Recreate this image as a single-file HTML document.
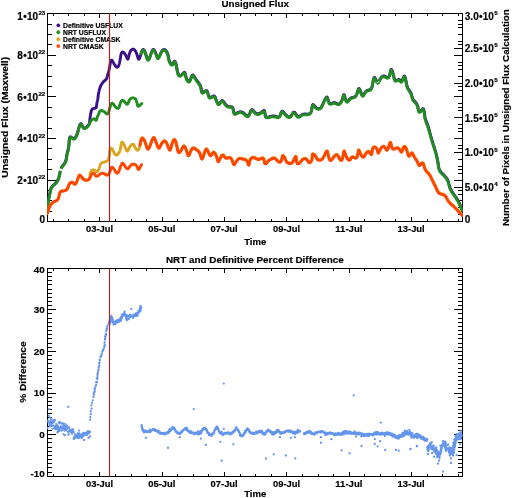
<!DOCTYPE html>
<html lang="en"><head><meta charset="utf-8"><title>Unsigned Flux</title>
<style>html,body{margin:0;padding:0;background:#fff}svg{display:block}text{font-family:"Liberation Sans",sans-serif;font-weight:bold;fill:#000;stroke:#000;stroke-width:0.18px}</style></head><body>
<svg width="512" height="498" viewBox="0 0 512 498">
<rect width="512" height="498" fill="#fff"/>
<path id="axes" d="M47.5,13.5 H462.5 V221.5 H47.5 Z M53.5,222 L53.5,219 M53.5,14 L53.5,16 M68.5,222 L68.5,219 M68.5,14 L68.5,16 M84.5,222 L84.5,219 M84.5,14 L84.5,16 M99.5,222 L99.5,217 M99.5,14 L99.5,18 M115.5,222 L115.5,219 M115.5,14 L115.5,16 M131.5,222 L131.5,219 M131.5,14 L131.5,16 M146.5,222 L146.5,219 M146.5,14 L146.5,16 M162.5,222 L162.5,217 M162.5,14 L162.5,18 M177.5,222 L177.5,219 M177.5,14 L177.5,16 M193.5,222 L193.5,219 M193.5,14 L193.5,16 M208.5,222 L208.5,219 M208.5,14 L208.5,16 M224.5,222 L224.5,217 M224.5,14 L224.5,18 M240.5,222 L240.5,219 M240.5,14 L240.5,16 M255.5,222 L255.5,219 M255.5,14 L255.5,16 M271.5,222 L271.5,219 M271.5,14 L271.5,16 M286.5,222 L286.5,217 M286.5,14 L286.5,18 M302.5,222 L302.5,219 M302.5,14 L302.5,16 M318.5,222 L318.5,219 M318.5,14 L318.5,16 M333.5,222 L333.5,219 M333.5,14 L333.5,16 M349.5,222 L349.5,217 M349.5,14 L349.5,18 M364.5,222 L364.5,219 M364.5,14 L364.5,16 M380.5,222 L380.5,219 M380.5,14 L380.5,16 M395.5,222 L395.5,219 M395.5,14 L395.5,16 M411.5,222 L411.5,217 M411.5,14 L411.5,18 M427.5,222 L427.5,219 M427.5,14 L427.5,16 M442.5,222 L442.5,219 M442.5,14 L442.5,16 M458.5,222 L458.5,219 M458.5,14 L458.5,16 M47.5,268.5 H462.5 V476.5 H47.5 Z M53.5,476 L53.5,474 M53.5,268 L53.5,271 M68.5,476 L68.5,474 M68.5,268 L68.5,271 M84.5,476 L84.5,474 M84.5,268 L84.5,271 M99.5,476 L99.5,472 M99.5,268 L99.5,273 M115.5,476 L115.5,474 M115.5,268 L115.5,271 M131.5,476 L131.5,474 M131.5,268 L131.5,271 M146.5,476 L146.5,474 M146.5,268 L146.5,271 M162.5,476 L162.5,472 M162.5,268 L162.5,273 M177.5,476 L177.5,474 M177.5,268 L177.5,271 M193.5,476 L193.5,474 M193.5,268 L193.5,271 M208.5,476 L208.5,474 M208.5,268 L208.5,271 M224.5,476 L224.5,472 M224.5,268 L224.5,273 M240.5,476 L240.5,474 M240.5,268 L240.5,271 M255.5,476 L255.5,474 M255.5,268 L255.5,271 M271.5,476 L271.5,474 M271.5,268 L271.5,271 M286.5,476 L286.5,472 M286.5,268 L286.5,273 M302.5,476 L302.5,474 M302.5,268 L302.5,271 M318.5,476 L318.5,474 M318.5,268 L318.5,271 M333.5,476 L333.5,474 M333.5,268 L333.5,271 M349.5,476 L349.5,472 M349.5,268 L349.5,273 M364.5,476 L364.5,474 M364.5,268 L364.5,271 M380.5,476 L380.5,474 M380.5,268 L380.5,271 M395.5,476 L395.5,474 M395.5,268 L395.5,271 M411.5,476 L411.5,472 M411.5,268 L411.5,273 M427.5,476 L427.5,474 M427.5,268 L427.5,271 M442.5,476 L442.5,474 M442.5,268 L442.5,271 M458.5,476 L458.5,474 M458.5,268 L458.5,271 M48,221.5 L56,221.5 M462,221.5 L454,221.5 M48,211.5 L52,211.5 M462,211.5 L458,211.5 M48,200.5 L52,200.5 M462,200.5 L458,200.5 M48,190.5 L52,190.5 M462,190.5 L458,190.5 M48,180.5 L56,180.5 M462,180.5 L454,180.5 M48,169.5 L52,169.5 M462,169.5 L458,169.5 M48,159.5 L52,159.5 M462,159.5 L458,159.5 M48,148.5 L52,148.5 M462,148.5 L458,148.5 M48,138.5 L56,138.5 M462,138.5 L454,138.5 M48,128.5 L52,128.5 M462,128.5 L458,128.5 M48,117.5 L52,117.5 M462,117.5 L458,117.5 M48,107.5 L52,107.5 M462,107.5 L458,107.5 M48,96.5 L56,96.5 M462,96.5 L454,96.5 M48,86.5 L52,86.5 M462,86.5 L458,86.5 M48,76.5 L52,76.5 M462,76.5 L458,76.5 M48,65.5 L52,65.5 M462,65.5 L458,65.5 M48,55.5 L56,55.5 M462,55.5 L454,55.5 M48,44.5 L52,44.5 M462,44.5 L458,44.5 M48,34.5 L52,34.5 M462,34.5 L458,34.5 M48,24.5 L52,24.5 M462,24.5 L458,24.5 M48,13.5 L56,13.5 M462,13.5 L454,13.5 M462,221.5 L454,221.5 M462,214.5 L458,214.5 M462,207.5 L458,207.5 M462,200.5 L458,200.5 M462,194.5 L458,194.5 M462,187.5 L454,187.5 M462,180.5 L458,180.5 M462,173.5 L458,173.5 M462,166.5 L458,166.5 M462,159.5 L458,159.5 M462,152.5 L454,152.5 M462,145.5 L458,145.5 M462,138.5 L458,138.5 M462,131.5 L458,131.5 M462,124.5 L458,124.5 M462,117.5 L454,117.5 M462,110.5 L458,110.5 M462,103.5 L458,103.5 M462,96.5 L458,96.5 M462,90.5 L458,90.5 M462,83.5 L454,83.5 M462,76.5 L458,76.5 M462,69.5 L458,69.5 M462,62.5 L458,62.5 M462,55.5 L458,55.5 M462,48.5 L454,48.5 M462,41.5 L458,41.5 M462,34.5 L458,34.5 M462,27.5 L458,27.5 M462,20.5 L458,20.5 M462,13.5 L454,13.5 M48,476.5 L56,476.5 M462,476.5 L454,476.5 M48,472.5 L52,472.5 M462,472.5 L458,472.5 M48,467.5 L52,467.5 M462,467.5 L458,467.5 M48,463.5 L52,463.5 M462,463.5 L458,463.5 M48,459.5 L52,459.5 M462,459.5 L458,459.5 M48,455.5 L52,455.5 M462,455.5 L458,455.5 M48,451.5 L52,451.5 M462,451.5 L458,451.5 M48,447.5 L52,447.5 M462,447.5 L458,447.5 M48,442.5 L52,442.5 M462,442.5 L458,442.5 M48,438.5 L52,438.5 M462,438.5 L458,438.5 M48,434.5 L56,434.5 M462,434.5 L454,434.5 M48,430.5 L52,430.5 M462,430.5 L458,430.5 M48,426.5 L52,426.5 M462,426.5 L458,426.5 M48,422.5 L52,422.5 M462,422.5 L458,422.5 M48,417.5 L52,417.5 M462,417.5 L458,417.5 M48,413.5 L52,413.5 M462,413.5 L458,413.5 M48,409.5 L52,409.5 M462,409.5 L458,409.5 M48,405.5 L52,405.5 M462,405.5 L458,405.5 M48,401.5 L52,401.5 M462,401.5 L458,401.5 M48,397.5 L52,397.5 M462,397.5 L458,397.5 M48,393.5 L56,393.5 M462,393.5 L454,393.5 M48,388.5 L52,388.5 M462,388.5 L458,388.5 M48,384.5 L52,384.5 M462,384.5 L458,384.5 M48,380.5 L52,380.5 M462,380.5 L458,380.5 M48,376.5 L52,376.5 M462,376.5 L458,376.5 M48,372.5 L52,372.5 M462,372.5 L458,372.5 M48,368.5 L52,368.5 M462,368.5 L458,368.5 M48,363.5 L52,363.5 M462,363.5 L458,363.5 M48,359.5 L52,359.5 M462,359.5 L458,359.5 M48,355.5 L52,355.5 M462,355.5 L458,355.5 M48,351.5 L56,351.5 M462,351.5 L454,351.5 M48,347.5 L52,347.5 M462,347.5 L458,347.5 M48,343.5 L52,343.5 M462,343.5 L458,343.5 M48,338.5 L52,338.5 M462,338.5 L458,338.5 M48,334.5 L52,334.5 M462,334.5 L458,334.5 M48,330.5 L52,330.5 M462,330.5 L458,330.5 M48,326.5 L52,326.5 M462,326.5 L458,326.5 M48,322.5 L52,322.5 M462,322.5 L458,322.5 M48,318.5 L52,318.5 M462,318.5 L458,318.5 M48,313.5 L52,313.5 M462,313.5 L458,313.5 M48,309.5 L56,309.5 M462,309.5 L454,309.5 M48,305.5 L52,305.5 M462,305.5 L458,305.5 M48,301.5 L52,301.5 M462,301.5 L458,301.5 M48,297.5 L52,297.5 M462,297.5 L458,297.5 M48,293.5 L52,293.5 M462,293.5 L458,293.5 M48,289.5 L52,289.5 M462,289.5 L458,289.5 M48,284.5 L52,284.5 M462,284.5 L458,284.5 M48,280.5 L52,280.5 M462,280.5 L458,280.5 M48,276.5 L52,276.5 M462,276.5 L458,276.5 M48,272.5 L52,272.5 M462,272.5 L458,272.5 M48,268.5 L56,268.5 M462,268.5 L454,268.5" fill="none" stroke="#000" stroke-width="1" shape-rendering="crispEdges"/>
<defs><clipPath id="c1"><rect x="47" y="13" width="416" height="209"/></clipPath><clipPath id="c2"><rect x="47" y="268" width="416" height="209"/></clipPath></defs>
<g id="curves" clip-path="url(#c1)">
<path d="M47.3,208.9 47.4,208.2 47.4,207.6 47.5,207 47.6,206.4 47.6,205.9 47.7,205.3 47.8,204.7 47.8,204.1 47.9,203.5 48,202.9 48.1,202.3 48.2,201.7 48.3,201.1 48.4,200.5 48.5,199.9 48.6,199.3 48.7,198.8 48.8,198.2 48.9,197.6 49,197 49.2,196.4 49.3,195.8 49.4,195.2 49.5,194.6 49.7,194.1 49.8,193.5 49.9,192.9 50,192.2 50.1,191.6 50.3,191 50.4,190.4 50.5,189.8 50.7,189.2 50.9,188.7 51.1,188.1 51.4,187.6 51.7,187.1 52,186.6 52.4,186.1 52.8,185.7 53.2,185.3 53.7,184.9 54.1,184.5 54.6,184.1 55,183.6 55.4,183.2 55.8,182.8 56.2,182.3 56.6,181.8 57,181.3 57.3,180.8 57.6,180.3 57.9,179.8 58.1,179.3 58.4,178.7 58.6,178.2 58.8,177.6 58.9,177 59.1,176.4 59.2,175.8 59.4,175.3 59.5,174.7 59.6,174.1 59.8,173.5 59.9,172.9 60,172.3 60.1,171.7 60.3,171.1 60.4,170.5 60.6,169.9 60.7,169.3 60.9,168.7 61.2,168.2 61.4,167.6 61.7,167.1 62,166.6 62.3,166.1 62.7,165.6 63.1,165.2 63.5,164.7 63.8,164.2 64.2,163.8 64.6,163.3 64.9,162.8 65.2,162.2 65.4,161.7 65.6,161.1 65.8,160.6 66,160 66.1,159.4 66.2,158.8 66.4,158.1 66.5,157.5 66.5,156.9 66.6,156.3 66.7,155.8 66.8,155.2 66.9,154.6 67,154.1 67.1,153.5 67.2,153 67.4,152.5 67.5,152 67.6,151.5 67.8,151 67.9,150.4 68,149.9 68.2,149.3 68.3,148.7 68.4,148.1 68.5,147.5 68.7,146.8 68.7,146.1 68.8,145.4 68.9,144.6 69,143.7 69,142.9 69.1,142 69.1,141.1 69.2,140.3 69.3,139.5 69.4,138.8 69.5,138.2 69.7,137.6 69.9,137.2 70.2,137 70.5,136.8 70.8,136.9 71.3,137.2 71.8,137.6 72.3,138 72.8,138.4 73.4,138.6 73.9,138.6 74.4,138.4 74.8,138 75.3,137.5 75.7,136.9 76,136.3 76.3,135.8 76.6,135.2 76.8,134.7 77.1,134.2 77.2,133.7 77.4,133.1 77.6,132.6 77.7,132.1 77.9,131.6 78,131 78.1,130.4 78.3,129.9 78.4,129.2 78.6,128.6 78.8,127.9 79,127.1 79.3,126.4 79.5,125.6 79.8,125 80.1,124.4 80.4,124 80.7,123.8 81,123.8 81.3,124 81.6,124.5 81.9,125.1 82.3,125.7 82.6,126.4 83,127 83.4,127.6 83.9,128 84.4,128.1 84.9,128.1 85.5,127.8 86,127.5 86.5,127 87,126.6 87.4,126.2 87.8,125.8 88.2,125.3 88.5,124.8 88.9,124.3 89.1,123.8 89.3,123.3 89.5,122.7 89.6,122.1 89.7,121.5 89.7,120.9 89.8,120.2 89.8,119.6 89.9,119 90,118.4 90.1,117.8 90.1,117.2 90.2,116.6 90.3,116.1 90.4,115.5 90.5,114.9 90.6,114.3 90.7,113.7 90.8,113.1 90.9,112.6 91.1,112 91.2,111.3 91.4,110.7 91.7,110.1 92,109.6 92.3,109.1 92.8,108.8 93.3,108.6 93.9,108.4 94.5,108.3 95.2,108.2 95.7,108 96.1,107.7 96.4,107.2 96.5,106.6 96.6,105.9 96.6,105.2 96.7,104.6 96.7,103.9 96.8,103.3 97,102.7 97.1,102.2 97.2,101.6 97.4,101 97.5,100.5 97.6,99.9 97.7,99.3 97.8,98.8 97.9,98.2 98,97.6 98.1,97 98.1,96.4 98.2,95.8 98.3,95.2 98.3,94.6 98.4,94 98.5,93.4 98.6,92.8 98.7,92.2 98.9,91.6 99,91 99.2,90.4 99.3,89.9 99.5,89.3 99.7,88.7 99.9,88.1 100.1,87.6 100.3,87 100.5,86.4 100.7,85.9 101,85.3 101.3,84.8 101.6,84.3 101.9,83.8 102.2,83.3 102.6,82.8 103,82.3 103.4,81.9 103.8,81.4 104.2,81 104.7,80.6 105.2,80.3 105.6,79.9 106,79.4 106.4,79 106.7,78.4 106.9,77.9 107.1,77.3 107.3,76.7 107.4,76.1 107.5,75.5 107.7,75 107.8,74.4 108,73.9 108.1,73.3 108.3,72.8 108.5,72.2 108.6,71.6 108.8,71 109,70.3 109.1,69.6 109.3,68.8 109.4,68 109.6,67.2 109.7,66.3 109.9,65.5 110,64.7 110.2,63.9 110.3,63.1 110.5,62.4 110.7,61.8 110.8,61.2 111,60.8 111.2,60.4 111.4,60.2 111.6,60.1 111.9,60.1 112.1,60.3 112.4,60.6 112.6,61.1 112.9,61.7 113.3,62.3 113.6,63 113.9,63.7 114.3,64.3 114.7,64.9 115.1,65.5 115.5,66 115.9,66.5 116.3,66.8 116.7,67.1 117,67.2 117.4,67.2 117.7,67 118,66.8 118.2,66.4 118.5,65.9 118.7,65.4 119,64.7 119.2,64 119.4,63.3 119.6,62.5 119.7,61.6 119.9,60.8 120.1,59.9 120.2,59 120.3,58.1 120.5,57.2 120.6,56.4 120.8,55.6 120.9,54.9 121.1,54.2 121.3,53.6 121.5,53.1 121.8,52.6 122,52.3 122.3,52.1 122.6,52 123,52.1 123.4,52.3 123.8,52.7 124.3,53.1 124.7,53.7 125.1,54.3 125.5,54.9 125.9,55.6 126.2,56.3 126.5,57 126.8,57.6 127,58.2 127.2,58.6 127.5,59 127.6,59.2 127.8,59.2 128,59.1 128.1,58.8 128.3,58.4 128.4,57.8 128.5,57.2 128.7,56.5 128.9,55.8 129,55 129.3,54.2 129.5,53.4 129.8,52.7 130.1,51.9 130.4,51.2 130.8,50.6 131.3,50.1 131.7,49.7 132.2,49.3 132.6,49.1 133.1,49.1 133.6,49.2 134,49.5 134.5,49.8 134.9,50.3 135.3,50.9 135.7,51.5 136,52.2 136.4,52.9 136.7,53.7 136.9,54.5 137.2,55.2 137.4,56 137.6,56.7 137.8,57.4 138,57.9 138.1,58.4 138.3,58.8 138.5,59.1 138.7,59.2 138.9,59.2 139.1,59 139.3,58.7 139.6,58.2 139.8,57.6 140,57 140.3,56.3 140.5,55.5 140.8,54.8 141,54 141.3,53.2 141.5,52.4 141.8,51.7 142,51 142.3,50.4 142.5,50 142.8,49.7 143.1,49.5 143.3,49.5 143.6,49.6 143.9,49.9 144.2,50.3 144.5,50.9 144.8,51.5 145.1,52.2 145.4,52.9 145.7,53.7 146,54.5 146.2,55.3 146.5,56.1 146.7,56.9 147,57.5 147.2,58.2 147.4,58.7 147.7,59.1 147.9,59.4 148.1,59.5 148.4,59.5 148.6,59.4 148.9,59.1 149.1,58.7 149.4,58.2 149.7,57.6 149.9,56.9 150.2,56.2 150.5,55.4 150.7,54.6 151,53.8 151.3,53 151.6,52.2 151.9,51.5 152.1,50.9 152.4,50.3 152.7,49.9 153,49.6 153.3,49.5 153.7,49.5 154,49.8 154.3,50.1 154.7,50.6 155,51.3 155.3,51.9 155.6,52.7 156,53.5 156.2,54.2 156.5,55 156.8,55.7 157.1,56.4 157.3,56.9 157.6,57.4 157.8,57.7 158.1,57.9 158.3,57.9 158.6,57.8 158.8,57.5 159.1,57.1 159.3,56.5 159.6,55.9 159.9,55.2 160.2,54.5 160.5,53.8 160.9,53 161.2,52.3 161.6,51.6 162,51 162.4,50.4 162.9,50 163.3,49.7 163.8,49.5 164.2,49.5 164.7,49.6 165.2,49.9 165.6,50.3 166.1,50.8 166.5,51.3 166.9,51.9 167.2,52.5 167.5,53.1 167.7,53.7 167.9,54.3 168,54.8 168.2,55.4 168.3,55.9 168.4,56.5 168.5,57 168.6,57.6 168.7,58.1 168.8,58.7 168.9,59.3 169,59.8 169.2,60.4 169.4,61 169.7,61.6 170,62.3 170.4,62.9 170.8,63.5 171.2,64.1 171.7,64.4 172.1,64.6 172.5,64.4 172.9,64 173.2,63.4 173.5,62.7 173.8,62.1 174.1,61.6 174.4,61.3 174.6,61.2 174.9,61.3 175.1,61.5 175.3,61.9 175.6,62.4 175.8,63 176,63.8 176.2,64.6 176.4,65.4 176.6,66.4 176.7,67.3 176.9,68.3 177.1,69.2 177.3,70.1 177.4,71 177.6,71.9 177.8,72.6 178,73.3 178.3,74 178.5,74.5 178.8,75 179.1,75.3 179.5,75.5 179.9,75.6 180.4,75.5 180.9,75.3 181.4,75 181.9,74.5 182.4,74 182.9,73.5 183.4,73 183.8,72.6 184.1,72.4 184.4,72.3 184.7,72.5 184.9,72.9 185.1,73.4 185.3,74.1 185.5,74.8 185.7,75.6 185.9,76.4 186.1,77.3 186.4,78.1 186.7,78.9 187.1,79.6 187.5,80.2 187.9,80.7 188.3,81.1 188.6,81.3 189,81.4 189.4,81.2 189.7,80.9 190,80.4 190.3,79.8 190.5,79.2 190.8,78.4 191.1,77.7 191.3,77 191.6,76.4 191.9,75.8 192.1,75.4 192.4,75.1 192.8,75 193.1,75.1 193.5,75.4 193.8,75.8 194.2,76.3 194.6,76.9 195,77.6 195.4,78.3 195.8,78.9 196.2,79.6 196.6,80.2 197,80.7 197.4,81.3 197.8,81.7 198.2,82.2 198.5,82.7 198.8,83.1 199.2,83.5 199.5,84 199.7,84.4 200,84.9 200.2,85.4 200.4,85.9 200.6,86.5 200.8,87 201,87.7 201.1,88.4 201.2,89.1 201.4,89.9 201.5,90.6 201.6,91.3 201.8,91.9 202.1,92.3 202.4,92.5 202.8,92.5 203.3,92.3 203.9,91.9 204.4,91.5 205,91.1 205.6,90.7 206.1,90.6 206.5,90.6 206.9,90.8 207.2,91.3 207.5,91.8 207.7,92.5 208,93.2 208.2,94 208.4,94.8 208.6,95.5 208.9,96.2 209.2,96.8 209.5,97.2 209.9,97.5 210.3,97.5 210.9,97.4 211.4,97.1 212,96.8 212.6,96.4 213.2,96.1 213.7,96 214.2,96 214.6,96.2 214.9,96.6 215.2,97.1 215.5,97.7 215.8,98.5 216,99.2 216.3,100 216.6,100.8 216.9,101.6 217.2,102.3 217.6,102.9 217.9,103.4 218.3,103.8 218.7,104 219,104 219.4,103.8 219.8,103.3 220.2,102.8 220.6,102.2 221,101.6 221.4,101.1 221.8,100.7 222.2,100.5 222.6,100.6 223,100.9 223.4,101.3 223.8,101.8 224.2,102.4 224.6,103.1 225,103.7 225.4,104.3 225.9,104.8 226.3,105.3 226.8,105.6 227.3,106 227.8,106.2 228.4,106.4 229,106.5 229.6,106.6 230.2,106.6 230.8,106.7 231.4,106.8 232,107 232.4,107.4 232.7,107.8 233,108.4 233.2,109.1 233.4,109.8 233.5,110.5 233.7,111.2 233.8,111.9 234,112.5 234.2,113 234.4,113.4 234.7,113.6 235.1,113.7 235.6,113.6 236.1,113.4 236.7,113.2 237.3,112.9 238,112.5 238.6,112.3 239.2,112 239.9,111.9 240.5,111.8 241.1,111.8 241.7,112 242.2,112.2 242.8,112.4 243.4,112.8 243.9,113.3 244.5,113.7 245,114.3 245.6,114.8 246.1,115.2 246.6,115.6 247,115.9 247.5,116.1 247.9,116.1 248.3,116 248.6,115.7 249,115.2 249.3,114.6 249.6,113.9 249.9,113.2 250.1,112.5 250.4,111.8 250.7,111.1 251,110.5 251.3,110 251.6,109.7 251.9,109.6 252.2,109.6 252.6,109.8 253,110.2 253.4,110.7 253.9,111.3 254.3,111.8 254.8,112.4 255.4,112.8 255.9,113.2 256.5,113.5 257.1,113.7 257.7,113.8 258.3,113.8 258.9,113.7 259.5,113.5 260.2,113.2 260.8,112.9 261.4,112.4 261.9,111.9 262.5,111.5 263,111 263.4,110.7 263.8,110.6 264.1,110.5 264.4,110.7 264.6,111.1 264.7,111.6 264.8,112.3 264.9,113 265,113.7 265.2,114.5 265.4,115.2 265.6,115.8 265.9,116.4 266.3,116.8 266.8,117 267.3,117.1 267.9,117.1 268.6,117 269.3,116.9 269.9,116.7 270.6,116.5 271.2,116.4 271.7,116.2 272.3,116.1 272.9,116 273.5,116 274.1,116 274.7,116.2 275.4,116.3 276,116.5 276.6,116.7 277.3,116.9 277.9,116.9 278.4,116.9 278.9,116.8 279.4,116.5 279.8,116 280.1,115.4 280.4,114.8 280.7,114.1 280.9,113.4 281.1,112.7 281.4,112.1 281.6,111.6 281.9,111.3 282.2,111.1 282.5,111.2 282.9,111.4 283.3,111.8 283.8,112.3 284.2,112.9 284.7,113.5 285.2,114.1 285.8,114.7 286.3,115.3 286.8,115.8 287.4,116.2 287.9,116.5 288.5,116.8 289,116.9 289.5,116.9 290,116.7 290.5,116.4 291,115.9 291.4,115.4 291.8,114.8 292.2,114.1 292.6,113.5 292.9,113 293.3,112.5 293.7,112.2 294,112.1 294.4,112.1 294.7,112.4 295.1,112.8 295.4,113.3 295.8,113.9 296.2,114.6 296.6,115.2 297,115.8 297.5,116.2 297.9,116.6 298.4,116.7 298.9,116.6 299.4,116.4 299.9,116.1 300.5,115.8 301,115.4 301.6,115 302.2,114.6 302.7,114.4 303.3,114.2 303.9,114.1 304.5,114 305.1,114 305.7,114 306.3,114.1 307,114.1 307.6,114.1 308.3,114 308.9,113.9 309.4,113.7 309.9,113.4 310.4,113 310.7,112.5 311,111.9 311.3,111.2 311.5,110.5 311.7,109.7 311.8,108.9 312,108.1 312.1,107.3 312.2,106.6 312.3,106 312.4,105.4 312.6,105 312.7,104.7 312.9,104.5 313.2,104.6 313.5,104.8 313.9,105.1 314.3,105.6 314.7,106.1 315.2,106.6 315.7,107.1 316.2,107.6 316.8,108 317.4,108.3 318,108.5 318.5,108.6 319.1,108.6 319.6,108.5 320,108.3 320.5,108 320.9,107.6 321.2,107.2 321.6,106.7 321.9,106.1 322.2,105.5 322.6,104.9 322.9,104.1 323.2,103.4 323.6,102.6 323.9,101.8 324.2,101 324.6,100.3 324.9,99.6 325.3,98.9 325.6,98.3 325.9,97.8 326.2,97.4 326.5,97.2 326.8,97 327.1,97.1 327.3,97.3 327.5,97.7 327.7,98.2 327.9,98.9 328.1,99.6 328.3,100.3 328.5,101 328.7,101.7 329,102.3 329.3,102.9 329.7,103.3 330.1,103.5 330.6,103.6 331.1,103.5 331.7,103.3 332.3,103.1 332.9,102.8 333.5,102.6 334.2,102.5 334.8,102.6 335.3,102.8 335.9,103.1 336.5,103.3 337,103.6 337.6,103.8 338.1,103.9 338.7,103.9 339.2,103.8 339.7,103.5 340.2,103.1 340.7,102.6 341.1,102 341.5,101.3 341.9,100.6 342.2,99.8 342.4,99 342.7,98.2 342.9,97.4 343.1,96.7 343.2,96 343.4,95.5 343.6,95 343.7,94.7 343.9,94.5 344,94.5 344.2,94.7 344.3,95.1 344.5,95.6 344.7,96.2 344.9,96.9 345.1,97.7 345.4,98.5 345.6,99.2 345.9,99.9 346.2,100.5 346.5,101 346.8,101.4 347.1,101.5 347.5,101.5 347.9,101.3 348.3,100.9 348.7,100.5 349.1,99.9 349.6,99.4 350.1,98.8 350.6,98.3 351.2,97.9 351.7,97.7 352.3,97.5 352.9,97.3 353.5,97.2 354.1,97.1 354.6,96.9 355.1,96.6 355.6,96.1 356,95.6 356.4,95 356.7,94.3 357,93.5 357.3,92.8 357.5,92 357.7,91.2 358,90.5 358.2,89.9 358.4,89.4 358.6,88.9 358.7,88.6 359,88.5 359.2,88.6 359.4,88.8 359.6,89.2 359.9,89.7 360.2,90.4 360.4,91.1 360.7,91.9 361,92.6 361.3,93.4 361.6,94 361.9,94.6 362.2,95.1 362.5,95.4 362.8,95.5 363.1,95.5 363.4,95.2 363.7,94.8 364,94.3 364.4,93.7 364.7,93 365.1,92.4 365.5,91.8 366,91.3 366.5,90.9 367.1,90.6 367.7,90.3 368.3,90.2 368.9,90 369.4,89.8 369.9,89.6 370.4,89.4 370.8,89.1 371.1,88.7 371.4,88.2 371.7,87.7 371.9,87.1 372.1,86.5 372.3,85.8 372.4,85.1 372.6,84.3 372.7,83.4 372.9,82.6 373,81.7 373.2,80.9 373.4,80.1 373.5,79.4 373.7,78.7 373.9,78.2 374.1,77.8 374.3,77.5 374.5,77.5 374.8,77.6 375.1,77.9 375.3,78.4 375.6,79 376,79.6 376.3,80.3 376.6,81 376.9,81.6 377.3,82.1 377.6,82.4 377.9,82.6 378.2,82.5 378.5,82.2 378.8,81.8 379.1,81.3 379.4,80.7 379.7,80 380.1,79.3 380.5,78.6 380.9,77.9 381.3,77.4 381.8,76.9 382.3,76.5 382.9,76.2 383.4,76 384,76 384.6,76.2 385.2,76.4 385.8,76.7 386.4,77.1 386.9,77.3 387.4,77.5 387.9,77.5 388.3,77.4 388.7,77.1 389,76.6 389.3,76 389.6,75.3 389.8,74.6 390,73.8 390.2,73.1 390.3,72.3 390.5,71.5 390.6,70.9 390.8,70.3 390.9,69.8 391.1,69.5 391.2,69.4 391.4,69.4 391.6,69.6 391.8,69.9 392.1,70.4 392.3,70.9 392.5,71.6 392.7,72.3 393,73.1 393.2,73.9 393.4,74.8 393.6,75.6 393.9,76.5 394.1,77.4 394.3,78.2 394.5,78.9 394.8,79.5 395.1,80 395.4,80.4 395.8,80.5 396.3,80.5 396.8,80.3 397.4,80 398,79.7 398.6,79.5 399.1,79.5 399.6,79.9 400.1,80.4 400.5,80.9 400.9,81.4 401.2,81.6 401.6,81.5 401.9,81.2 402.2,80.6 402.5,80 402.8,79.2 403.1,78.4 403.4,77.7 403.6,77 403.9,76.4 404.1,76.1 404.4,76 404.6,76.1 404.8,76.4 405,76.9 405.3,77.6 405.5,78.3 405.7,79.1 405.8,80 406,80.8 406.2,81.6 406.3,82.4 406.5,83.1 406.6,83.8 406.7,84.4 406.8,85 407,85.6 407.1,86.1 407.3,86.6 407.5,87.1 407.7,87.6 407.9,88.1 408.1,88.5 408.4,89 408.7,89.5 409.1,90 409.4,90.5 409.7,91 410.1,91.5 410.4,92 410.7,92.6 411,93.1 411.2,93.7 411.4,94.3 411.6,94.9 411.8,95.5 411.9,96.1 412.1,96.7 412.3,97.3 412.4,97.9 412.6,98.4 412.8,98.9 413.1,99.4 413.4,99.9 413.7,100.3 414.1,100.7 414.5,101.1 414.9,101.5 415.3,102 415.7,102.4 416.1,102.9 416.5,103.4 416.8,104 417.1,104.6 417.4,105.3 417.7,106.1 417.9,106.9 418.1,107.7 418.2,108.5 418.4,109.3 418.6,110 418.8,110.6 419,111.1 419.2,111.5 419.5,111.7 419.8,111.7 420.1,111.6 420.5,111.2 420.9,110.7 421.3,110.2 421.8,109.6 422.2,109.1 422.6,108.7 422.9,108.6 423.2,108.6 423.5,108.8 423.7,109.2 423.9,109.7 424,110.3 424.2,111 424.3,111.8 424.4,112.7 424.5,113.5 424.6,114.4 424.7,115.2 424.8,116 424.9,116.8 425.1,117.5 425.2,118.1 425.4,118.7 425.6,119.3 425.7,119.9 425.9,120.4 426.1,120.9 426.3,121.4 426.5,121.9 426.7,122.4 426.9,122.9 427.1,123.4 427.3,123.9 427.4,124.5 427.6,125 427.8,125.5 428,126.1 428.2,126.6 428.3,127.2 428.5,127.8 428.7,128.4 428.9,129 429,129.5 429.2,130.1 429.4,130.7 429.5,131.3 429.7,131.9 429.9,132.5 430,133.1 430.2,133.7 430.3,134.3 430.5,134.9 430.7,135.5 430.8,136.1 431,136.7 431.2,137.3 431.3,137.8 431.5,138.4 431.7,139 431.9,139.6 432,140.1 432.2,140.7 432.4,141.3 432.5,141.8 432.7,142.4 432.9,143 433.1,143.6 433.2,144.1 433.4,144.7 433.6,145.3 433.8,145.8 434,146.4 434.2,147 434.3,147.6 434.5,148.1 434.7,148.7 434.9,149.3 435,149.9 435.2,150.4 435.4,151 435.6,151.6 435.7,152.2 435.9,152.7 436.1,153.3 436.2,153.9 436.4,154.5 436.5,155.1 436.6,155.6 436.8,156.2 436.9,156.8 437,157.4 437.2,158 437.3,158.5 437.4,159.1 437.5,159.7 437.6,160.3 437.7,160.9 437.8,161.5 438,162.1 438.1,162.7 438.2,163.3 438.2,163.9 438.3,164.5 438.4,165.1 438.5,165.7 438.6,166.3 438.7,166.9 438.9,167.5 439,168.1 439.2,168.7 439.4,169.2 439.6,169.8 439.8,170.3 440.1,170.8 440.4,171.3 440.8,171.8 441.2,172.3 441.6,172.7 442,173.1 442.4,173.6 442.9,174 443.3,174.4 443.8,174.9 444.2,175.3 444.6,175.7 445,176.2 445.4,176.6 445.8,177.1 446.2,177.6 446.5,178.1 446.9,178.6 447.2,179.1 447.5,179.6 447.7,180.1 448,180.7 448.2,181.2 448.4,181.8 448.5,182.4 448.7,182.9 448.9,183.5 449,184.1 449.2,184.7 449.3,185.3 449.5,185.9 449.7,186.4 449.9,187 450,187.6 450.2,188.2 450.5,188.7 450.7,189.3 451,189.8 451.3,190.3 451.6,190.8 451.9,191.4 452.2,191.9 452.6,192.4 452.9,192.9 453.2,193.4 453.6,193.9 453.9,194.3 454.3,194.8 454.6,195.3 455,195.8 455.3,196.3 455.7,196.8 456,197.3 456.3,197.8 456.6,198.3 457,198.8 457.3,199.3 457.6,199.9 457.9,200.4 458.2,200.9 458.4,201.4 458.7,202 459,202.5 459.3,203 459.5,203.6 459.8,204.1 460,204.7 460.3,205.2 460.5,205.8 460.7,206.3 461,206.9 461.2,207.4 461.5,208 461.7,208.5 461.9,209.1 462.1,209.7" fill="none" stroke="#3a1088" stroke-width="2.9" stroke-linecap="round" stroke-linejoin="round"/>
<path d="M47.4,209.3 47.5,208.7 47.5,208.1 47.6,207.5 47.7,206.9 47.7,206.3 47.8,205.7 47.9,205.1 47.9,204.5 48,203.9 48.1,203.3 48.2,202.7 48.3,202.1 48.4,201.5 48.5,200.9 48.6,200.4 48.7,199.8 48.8,199.2 48.9,198.6 49,198 49.1,197.4 49.3,196.8 49.4,196.2 49.5,195.7 49.6,195.1 49.8,194.5 49.9,193.9 50,193.3 50.1,192.6 50.2,192 50.4,191.4 50.5,190.8 50.7,190.2 50.8,189.6 51,189.1 51.3,188.5 51.5,188 51.8,187.5 52.1,187 52.5,186.6 52.9,186.1 53.4,185.7 53.8,185.3 54.3,184.9 54.7,184.5 55.2,184 55.6,183.6 56,183.1 56.4,182.7 56.8,182.2 57.1,181.7 57.4,181.2 57.7,180.7 58,180.2 58.3,179.6 58.5,179.1 58.7,178.5 58.9,177.9 59.1,177.4 59.2,176.8 59.4,176.2 59.5,175.6 59.6,175 59.8,174.4 59.9,173.8 60,173.2 60.1,172.6 60.2,172 60.4,171.4 60.5,170.8 60.7,170.2 60.9,169.6 61.1,169.1 61.3,168.5 61.6,168 61.8,167.5 62.2,167 62.5,166.5 62.9,166 63.3,165.5 63.6,165.1 64,164.6 64.4,164.1 64.7,163.6 65.1,163.1 65.3,162.6 65.6,162 65.8,161.4 66,160.9 66.1,160.3 66.3,159.7 66.4,159.1 66.5,158.4 66.6,157.8 66.7,157.2 66.8,156.6 66.8,156 66.9,155.5 67,154.9 67.1,154.4 67.3,153.8 67.4,153.3 67.5,152.8 67.6,152.3 67.8,151.8 67.9,151.3 68.1,150.7 68.2,150.2 68.3,149.6 68.4,149 68.6,148.4 68.7,147.7 68.8,147.1 68.9,146.3 69,145.6 69,144.8 69.1,143.9 69.1,143 69.2,142.2 69.2,141.3 69.3,140.5 69.4,139.7 69.5,139 69.7,138.4 69.9,137.9 70.1,137.6 70.4,137.4 70.7,137.3 71.1,137.4 71.5,137.8 72,138.2 72.6,138.6 73.1,138.9 73.6,139.1 74.2,139 74.6,138.7 75.1,138.3 75.5,137.8 75.9,137.2 76.2,136.6 76.5,136 76.8,135.5 77,134.9 77.2,134.4 77.4,133.9 77.6,133.4 77.7,132.9 77.9,132.3 78,131.8 78.1,131.2 78.3,130.7 78.4,130.1 78.6,129.4 78.8,128.7 79,128 79.2,127.3 79.5,126.5 79.8,125.8 80,125.2 80.3,124.6 80.7,124.3 81,124.2 81.3,124.3 81.6,124.7 81.9,125.2 82.2,125.8 82.5,126.5 82.9,127.1 83.3,127.7 83.7,128.2 84.2,128.5 84.7,128.6 85.3,128.4 85.8,128.1 86.4,127.7 86.8,127.3 87.3,126.9 87.7,126.5 88.1,126 88.5,125.6 88.8,125.1 89.2,124.6 89.5,124 89.7,123.5 90,122.9 90.2,122.3 90.4,121.8 90.7,121.2 91,120.7 91.3,120.3 91.8,119.9 92.3,119.6 92.8,119.3 93.4,119 94.1,118.9 94.6,119 95.1,119.4 95.5,120 95.9,120.3 96.2,120.2 96.5,119.8 96.7,119.2 96.9,118.4 97.2,117.6 97.4,116.9 97.6,116.3 97.9,115.8 98.1,115.3 98.3,114.8 98.6,114.2 98.8,113.6 99.1,113 99.3,112.3 99.6,111.7 100,111.2 100.4,110.8 100.8,110.6 101.4,110.5 102,110.6 102.6,110.8 103.1,111.1 103.7,111.4 104.1,111.7 104.6,112.1 105.1,112.5 105.6,113 106.1,113.4 106.5,113.8 107,114 107.4,114 107.7,113.7 108.1,113.3 108.3,112.8 108.6,112.1 108.9,111.3 109.1,110.5 109.4,109.7 109.6,108.8 109.8,108 110,107.2 110.3,106.4 110.5,105.7 110.7,105 111,104.5 111.3,104 111.5,103.6 111.8,103.4 112.1,103.3 112.4,103.3 112.7,103.5 113.1,103.8 113.5,104.3 113.8,104.8 114.3,105.4 114.7,106 115.2,106.5 115.7,107.1 116.2,107.6 116.8,108 117.3,108.3 117.7,108.4 118.1,108.4 118.5,108.2 118.8,107.8 119.1,107.3 119.3,106.7 119.5,106 119.7,105.2 119.9,104.5 120.2,103.7 120.4,102.9 120.7,102.2 121,101.6 121.3,101.1 121.7,100.7 122.1,100.4 122.5,100.3 122.9,100.4 123.4,100.7 123.9,101 124.3,101.5 124.8,102.1 125.3,102.7 125.8,103.2 126.2,103.7 126.6,104.1 127,104.3 127.3,104.3 127.6,104 127.9,103.6 128.2,103.1 128.4,102.5 128.7,101.8 129,101.1 129.3,100.4 129.7,99.7 130.1,99.2 130.6,98.7 131.1,98.3 131.7,98.1 132.3,97.9 132.9,97.9 133.5,97.9 134,98.1 134.6,98.3 135.1,98.7 135.6,99.1 136,99.7 136.3,100.4 136.5,101.1 136.7,101.8 136.9,102.6 137.1,103.3 137.2,104.1 137.3,104.7 137.5,105.3 137.7,105.8 137.9,106.1 138.2,106.3 138.6,106.3 139,106.1 139.5,105.8 140,105.3 140.5,104.8 140.9,104.4 141.4,103.9 141.8,103.5" fill="none" stroke="#228b22" stroke-width="2.9" stroke-linecap="round" stroke-linejoin="round"/>
<path d="M141,54.1 141.3,53.3 141.5,52.6 141.8,51.9 142,51.3 142.3,50.8 142.6,50.4 142.9,50.1 143.2,50.1 143.5,50.2 143.8,50.5 144.1,50.9 144.4,51.4 144.7,52 145,52.8 145.3,53.5 145.5,54.3 145.8,55.1 146.1,55.9 146.3,56.7 146.6,57.5 146.8,58.1 147,58.8 147.2,59.3 147.5,59.7 147.7,60 147.9,60.2 148.2,60.2 148.4,60 148.7,59.8 148.9,59.4 149.2,58.9 149.5,58.3 149.7,57.6 150,56.9 150.3,56.1 150.6,55.3 150.8,54.5 151.1,53.7 151.4,53 151.7,52.2 152,51.6 152.3,51 152.5,50.5 152.8,50.2 153.2,50.1 153.5,50.2 153.8,50.4 154.1,50.7 154.5,51.2 154.8,51.9 155.1,52.5 155.5,53.3 155.8,54 156.1,54.8 156.4,55.6 156.6,56.3 156.9,57 157.2,57.5 157.4,58 157.7,58.4 157.9,58.6 158.1,58.6 158.4,58.5 158.6,58.2 158.9,57.7 159.2,57.2 159.4,56.6 159.7,55.9 160,55.2 160.4,54.5 160.7,53.7 161.1,53 161.4,52.3 161.8,51.7 162.2,51.1 162.7,50.7 163.1,50.3 163.6,50.1 164,50.1 164.5,50.2 165,50.5 165.4,50.9 165.9,51.4 166.3,51.9 166.7,52.5 167,53.1 167.3,53.7 167.5,54.3 167.7,54.9 167.9,55.4 168,56 168.1,56.5 168.2,57.1 168.3,57.6 168.4,58.2 168.5,58.7 168.6,59.3 168.7,59.9 168.9,60.4 169.1,61 169.3,61.6 169.5,62.2 169.8,62.9 170.2,63.5 170.6,64.1 171,64.7 171.5,65.1 171.9,65.2 172.3,65.1 172.7,64.6 173,64.1 173.4,63.4 173.7,62.8 173.9,62.3 174.2,62 174.5,61.8 174.7,61.9 175,62.1 175.2,62.5 175.4,63 175.6,63.6 175.8,64.4 176,65.2 176.2,66 176.4,66.9 176.6,67.9 176.7,68.8 176.9,69.8 177.1,70.7 177.3,71.6 177.5,72.4 177.6,73.2 177.9,73.9 178.1,74.6 178.3,75.1 178.6,75.6 179,75.9 179.3,76.1 179.7,76.2 180.2,76.2 180.7,76 181.2,75.6 181.7,75.2 182.3,74.7 182.7,74.2 183.2,73.7 183.6,73.3 183.9,73 184.2,73 184.5,73.2 184.7,73.5 184.9,74 185.1,74.7 185.3,75.4 185.5,76.2 185.7,77 186,77.9 186.2,78.7 186.6,79.5 186.9,80.2 187.3,80.8 187.7,81.3 188.1,81.7 188.5,82 188.8,82 189.2,81.9 189.5,81.6 189.8,81.1 190.1,80.5 190.4,79.9 190.6,79.2 190.9,78.4 191.2,77.7 191.4,77.1 191.7,76.5 192,76 192.3,75.8 192.6,75.7 192.9,75.8 193.3,76 193.7,76.4 194.1,76.9 194.4,77.5 194.8,78.2 195.2,78.9 195.7,79.5 196.1,80.2 196.5,80.8 196.8,81.3 197.2,81.9 197.6,82.4 198,82.8 198.3,83.3 198.7,83.7 199,84.2 199.3,84.6 199.6,85 199.8,85.5 200.1,86 200.3,86.5 200.5,87.1 200.7,87.6 200.8,88.3 201,89 201.1,89.7 201.2,90.5 201.3,91.2 201.5,91.9 201.7,92.5 201.9,92.9 202.3,93.2 202.7,93.2 203.1,93 203.7,92.6 204.3,92.2 204.8,91.8 205.4,91.4 205.9,91.2 206.3,91.2 206.7,91.5 207,91.9 207.3,92.4 207.6,93.1 207.8,93.8 208,94.6 208.2,95.4 208.5,96.1 208.7,96.8 209,97.4 209.3,97.9 209.7,98.1 210.2,98.2 210.7,98.1 211.2,97.8 211.8,97.4 212.4,97.1 213,96.8 213.5,96.6 214,96.6 214.4,96.8 214.7,97.2 215,97.7 215.3,98.3 215.6,99.1 215.9,99.8 216.1,100.6 216.4,101.4 216.8,102.2 217.1,102.9 217.4,103.5 217.8,104.1 218.1,104.4 218.5,104.6 218.9,104.6 219.3,104.4 219.6,104 220,103.5 220.4,102.9 220.8,102.3 221.2,101.8 221.6,101.4 222,101.2 222.4,101.2 222.8,101.5 223.2,101.9 223.6,102.4 224,103.1 224.4,103.7 224.8,104.3 225.2,104.9 225.7,105.4 226.1,105.9 226.6,106.3 227.1,106.6 227.6,106.8 228.2,107 228.8,107.2 229.4,107.2 230,107.3 230.7,107.4 231.2,107.5 231.8,107.7 232.2,108 232.6,108.5 232.9,109 233.1,109.7 233.2,110.4 233.4,111.1 233.5,111.8 233.7,112.5 233.8,113.1 234,113.6 234.2,114 234.6,114.3 235,114.4 235.4,114.3 235.9,114.1 236.5,113.8 237.1,113.5 237.8,113.2 238.4,112.9 239.1,112.7 239.7,112.5 240.3,112.5 240.9,112.5 241.5,112.6 242.1,112.8 242.6,113.1 243.2,113.4 243.8,113.9 244.3,114.4 244.9,114.9 245.4,115.4 245.9,115.8 246.4,116.2 246.9,116.5 247.3,116.7 247.7,116.8 248.1,116.6 248.5,116.3 248.8,115.9 249.1,115.3 249.4,114.6 249.7,113.9 250,113.2 250.3,112.5 250.5,111.8 250.8,111.2 251.1,110.7 251.4,110.4 251.7,110.2 252.1,110.3 252.4,110.5 252.8,110.9 253.2,111.3 253.7,111.9 254.2,112.4 254.7,113 255.2,113.5 255.7,113.8 256.3,114.1 256.9,114.4 257.5,114.5 258.1,114.5 258.7,114.4 259.4,114.2 260,113.9 260.6,113.5 261.2,113.1 261.8,112.6 262.3,112.1 262.8,111.7 263.3,111.4 263.7,111.2 264,111.2 264.2,111.4 264.4,111.7 264.6,112.3 264.7,112.9 264.8,113.6 264.9,114.3 265,115.1 265.2,115.8 265.4,116.4 265.7,117 266.1,117.4 266.6,117.6 267.1,117.8 267.8,117.8 268.4,117.7 269.1,117.5 269.7,117.4 270.4,117.2 271,117 271.6,116.9 272.1,116.7 272.7,116.7 273.3,116.6 273.9,116.7 274.5,116.8 275.2,117 275.8,117.2 276.5,117.4 277.1,117.5 277.7,117.6 278.2,117.6 278.8,117.4 279.2,117.1 279.6,116.7 279.9,116.1 280.2,115.5 280.5,114.8 280.7,114.1 281,113.4 281.2,112.8 281.4,112.3 281.7,112 282,111.8 282.4,111.8 282.7,112.1 283.1,112.5 283.6,113 284,113.5 284.5,114.1 285.1,114.8 285.6,115.4 286.1,115.9 286.7,116.4 287.2,116.8 287.8,117.2 288.3,117.4 288.8,117.5 289.4,117.5 289.9,117.4 290.3,117.1 290.8,116.6 291.2,116.1 291.6,115.5 292,114.8 292.4,114.2 292.8,113.7 293.1,113.2 293.5,112.9 293.8,112.7 294.2,112.8 294.6,113 294.9,113.4 295.3,114 295.7,114.6 296,115.2 296.4,115.8 296.8,116.4 297.3,116.9 297.7,117.2 298.2,117.3 298.7,117.3 299.2,117.1 299.7,116.8 300.3,116.4 300.9,116 301.4,115.6 302,115.3 302.6,115 303.1,114.9 303.7,114.8 304.3,114.7 304.9,114.7 305.5,114.7 306.2,114.7 306.8,114.7 307.4,114.7 308.1,114.7 308.7,114.6 309.2,114.4 309.7,114.1 310.2,113.7 310.6,113.2 310.9,112.6 311.1,111.9 311.4,111.1 311.5,110.4 311.7,109.6 311.8,108.8 311.9,108 312,107.3 312.1,106.7 312.3,106.1 312.4,105.7 312.6,105.4 312.8,105.2 313,105.2 313.3,105.4 313.7,105.7 314.1,106.2 314.5,106.7 315,107.2 315.5,107.8 316,108.2 316.6,108.6 317.2,108.9 317.8,109.1 318.4,109.2 318.9,109.2 319.4,109.1 319.9,108.9 320.3,108.7 320.7,108.3 321.1,107.9 321.4,107.4 321.8,106.8 322.1,106.2 322.4,105.5 322.7,104.8 323.1,104.1 323.4,103.3 323.7,102.5 324.1,101.7 324.4,101 324.8,100.2 325.1,99.6 325.4,99 325.8,98.5 326.1,98.1 326.4,97.8 326.7,97.7 326.9,97.7 327.1,98 327.3,98.3 327.5,98.9 327.7,99.5 327.9,100.2 328.1,100.9 328.3,101.6 328.6,102.3 328.8,103 329.1,103.5 329.5,103.9 329.9,104.2 330.4,104.2 330.9,104.2 331.5,104 332.1,103.7 332.7,103.5 333.4,103.3 334,103.2 334.6,103.3 335.2,103.4 335.7,103.7 336.3,104 336.9,104.3 337.4,104.5 338,104.6 338.5,104.6 339,104.4 339.6,104.1 340.1,103.8 340.5,103.3 341,102.7 341.4,102 341.7,101.2 342,100.5 342.3,99.7 342.5,98.9 342.7,98.1 342.9,97.4 343.1,96.7 343.2,96.1 343.4,95.7 343.5,95.3 343.7,95.2 343.8,95.2 344,95.3 344.2,95.7 344.4,96.2 344.6,96.9 344.8,97.6 345,98.3 345.2,99.1 345.5,99.8 345.7,100.5 346,101.2 346.3,101.7 346.6,102 347,102.2 347.3,102.2 347.7,101.9 348.1,101.6 348.5,101.1 349,100.6 349.4,100 349.9,99.5 350.4,99 351,98.6 351.6,98.3 352.2,98.1 352.7,98 353.3,97.9 353.9,97.7 354.5,97.5 355,97.2 355.4,96.8 355.8,96.3 356.2,95.6 356.5,94.9 356.8,94.2 357.1,93.4 357.4,92.7 357.6,91.9 357.8,91.2 358,90.6 358.2,90 358.4,89.6 358.6,89.3 358.8,89.2 359,89.2 359.2,89.4 359.5,89.8 359.7,90.4 360,91 360.3,91.7 360.6,92.5 360.9,93.2 361.2,94 361.5,94.7 361.8,95.3 362.1,95.7 362.4,96.1 362.7,96.2 363,96.1 363.2,95.9 363.6,95.5 363.9,94.9 364.2,94.3 364.6,93.7 364.9,93.1 365.4,92.5 365.9,91.9 366.4,91.5 366.9,91.2 367.5,91 368.1,90.8 368.7,90.7 369.3,90.5 369.8,90.3 370.2,90.1 370.6,89.7 371,89.4 371.3,88.9 371.5,88.4 371.8,87.8 372,87.2 372.1,86.5 372.3,85.7 372.4,85 372.6,84.1 372.7,83.3 372.9,82.4 373,81.6 373.2,80.8 373.4,80 373.5,79.4 373.7,78.9 373.9,78.4 374.1,78.2 374.4,78.1 374.6,78.2 374.9,78.5 375.2,79 375.5,79.6 375.8,80.3 376.1,81 376.4,81.6 376.8,82.2 377.1,82.7 377.4,83.1 377.7,83.2 378,83.2 378.3,82.9 378.6,82.5 378.9,82 379.2,81.4 379.6,80.7 379.9,80 380.3,79.3 380.7,78.6 381.1,78 381.6,77.5 382.1,77.1 382.7,76.8 383.3,76.7 383.8,76.7 384.4,76.8 385,77.1 385.6,77.4 386.2,77.7 386.8,78 387.3,78.2 387.7,78.2 388.2,78 388.5,77.7 388.9,77.3 389.1,76.7 389.4,76 389.6,75.3 389.8,74.5 390,73.7 390.2,72.9 390.3,72.2 390.5,71.5 390.6,71 390.8,70.5 390.9,70.2 391.1,70 391.3,70.1 391.5,70.2 391.7,70.6 391.9,71 392.1,71.6 392.3,72.2 392.6,72.9 392.8,73.7 393,74.5 393.3,75.4 393.5,76.3 393.7,77.1 393.9,78 394.1,78.8 394.4,79.5 394.6,80.1 394.9,80.7 395.2,81 395.6,81.2 396.1,81.2 396.6,81 397.2,80.7 397.8,80.4 398.4,80.2 399,80.2 399.5,80.5 399.9,81 400.3,81.5 400.7,82 401.1,82.2 401.4,82.2 401.8,81.8 402.1,81.3 402.4,80.6 402.7,79.9 402.9,79.1 403.2,78.3 403.5,77.6 403.7,77.1 404,76.7 404.2,76.6 404.4,76.8 404.7,77.1 404.9,77.6 405.1,78.2 405.3,78.9 405.5,79.7 405.7,80.6 405.9,81.4 406,82.3 406.2,83 406.3,83.8 406.4,84.4 406.6,85.1 406.7,85.6 406.8,86.2 407,86.7 407.1,87.3 407.3,87.7 407.5,88.2 407.7,88.7 408,89.2 408.3,89.7 408.6,90.1 408.9,90.6 409.2,91.1 409.6,91.6 409.9,92.2 410.2,92.7 410.5,93.2 410.8,93.8 411.1,94.3 411.3,94.9 411.5,95.5 411.6,96.1 411.8,96.7 411.9,97.3 412.1,97.9 412.3,98.5 412.5,99.1 412.7,99.6 412.9,100.1 413.2,100.5 413.6,101 413.9,101.4 414.3,101.8 414.7,102.2 415.1,102.6 415.5,103 415.9,103.5 416.3,104 416.7,104.6 417,105.3 417.3,106 417.5,106.8 417.7,107.6 417.9,108.4 418.1,109.2 418.3,109.9 418.4,110.6 418.6,111.2 418.8,111.8 419,112.1 419.3,112.3 419.6,112.4 419.9,112.2 420.3,111.9 420.8,111.4 421.2,110.8 421.6,110.3 422,109.8 422.4,109.4 422.8,109.2 423.1,109.3 423.3,109.5 423.6,109.8 423.7,110.3 423.9,111 424,111.7 424.1,112.5 424.2,113.3 424.3,114.1 424.4,115 424.5,115.8 424.7,116.6 424.8,117.4 424.9,118.1 425.1,118.8 425.2,119.4 425.4,120 425.6,120.5 425.8,121.1 425.9,121.6 426.1,122.1 426.3,122.6 426.5,123.1 426.7,123.6 426.9,124.1 427.1,124.6 427.3,125.1 427.5,125.6 427.7,126.2 427.8,126.7 428,127.3 428.2,127.9 428.4,128.4 428.5,129 428.7,129.6 428.9,130.2 429,130.8 429.2,131.4 429.4,132 429.5,132.6 429.7,133.2 429.9,133.8 430,134.4 430.2,135 430.4,135.6 430.5,136.2 430.7,136.7 430.9,137.3 431,137.9 431.2,138.5 431.4,139.1 431.5,139.6 431.7,140.2 431.9,140.8 432,141.3 432.2,141.9 432.4,142.5 432.6,143.1 432.7,143.6 432.9,144.2 433.1,144.8 433.3,145.3 433.5,145.9 433.6,146.5 433.8,147.1 434,147.6 434.2,148.2 434.4,148.8 434.5,149.3 434.7,149.9 434.9,150.5 435.1,151.1 435.2,151.7 435.4,152.2 435.6,152.8 435.7,153.4 435.9,154 436.1,154.5 436.2,155.1 436.4,155.7 436.5,156.3 436.6,156.9 436.8,157.4 436.9,158 437,158.6 437.1,159.2 437.3,159.8 437.4,160.4 437.5,161 437.6,161.5 437.7,162.1 437.8,162.7 437.9,163.3 438,163.9 438.1,164.5 438.2,165.1 438.3,165.7 438.4,166.4 438.5,167 438.6,167.6 438.7,168.2 438.9,168.8 439,169.3 439.2,169.9 439.4,170.4 439.7,171 440,171.5 440.3,172 440.6,172.4 441,172.9 441.4,173.3 441.9,173.8 442.3,174.2 442.7,174.6 443.2,175.1 443.6,175.5 444,175.9 444.5,176.4 444.9,176.8 445.3,177.3 445.7,177.8 446,178.2 446.4,178.7 446.7,179.2 447,179.7 447.3,180.2 447.6,180.8 447.8,181.3 448,181.9 448.2,182.4 448.4,183 448.6,183.6 448.7,184.2 448.9,184.7 449,185.3 449.2,185.9 449.4,186.5 449.5,187.1 449.7,187.7 449.9,188.2 450.1,188.8 450.3,189.4 450.6,189.9 450.8,190.4 451.1,191 451.4,191.5 451.7,192 452.1,192.5 452.4,193 452.7,193.5 453.1,194 453.4,194.5 453.8,195 454.1,195.5 454.5,196 454.8,196.5 455.2,197 455.5,197.5 455.8,198 456.2,198.5 456.5,199 456.8,199.5 457.1,200 457.4,200.5 457.7,201 458,201.6 458.3,202.1 458.6,202.6 458.8,203.2 459.1,203.7 459.4,204.2 459.6,204.8 459.9,205.3 460.1,205.9 460.4,206.4 460.6,207 460.8,207.5 461.1,208.1 461.3,208.6 461.5,209.2 461.8,209.7 462,210.3" fill="none" stroke="#228b22" stroke-width="2.9" stroke-linecap="round" stroke-linejoin="round"/>
<path d="M47.4,213.4 47.6,212.8 47.7,212.2 47.9,211.7 48.1,211.1 48.3,210.5 48.4,210 48.6,209.4 48.8,208.8 49,208.2 49.2,207.7 49.5,207.1 49.7,206.6 50,206 50.2,205.5 50.5,205 50.9,204.5 51.2,204 51.6,203.5 52.1,203.1 52.5,202.7 53,202.3 53.5,202 54,201.7 54.6,201.4 55.2,201.2 55.7,201 56.3,200.7 56.8,200.5 57.2,200.1 57.6,199.7 58,199.2 58.2,198.7 58.5,198.2 58.7,197.5 58.9,196.9 59,196.2 59.1,195.6 59.3,194.9 59.4,194.2 59.6,193.5 59.8,192.9 60,192.4 60.3,191.9 60.6,191.5 61.1,191.3 61.6,191.1 62.1,191 62.8,191 63.4,191 64.1,190.9 64.7,190.7 65.3,190.5 65.8,190.3 66.3,189.9 66.8,189.5 67.2,189.1 67.5,188.6 67.7,188.1 68,187.6 68.2,187 68.3,186.5 68.5,185.9 68.7,185.3 69,184.7 69.3,184.2 69.6,183.6 70.1,183.1 70.5,182.7 71.1,182.4 71.7,182.2 72.2,182.3 72.7,182.6 73.2,183 73.7,183.5 74.1,184 74.5,184.2 74.9,184.2 75.4,184 75.8,183.6 76.1,183 76.5,182.3 76.9,181.6 77.2,180.8 77.5,179.9 77.8,179.1 78,178.4 78.3,177.6 78.5,177 78.8,176.4 79,175.9 79.3,175.5 79.5,175.3 79.8,175.2 80.1,175.3 80.4,175.5 80.8,175.9 81.1,176.4 81.5,176.9 81.9,177.5 82.4,178 82.8,178.6 83.3,179.1 83.8,179.5 84.3,179.8 84.9,180 85.4,180.1 86,180.2 86.7,180.2 87.3,180.1 87.9,179.9 88.4,179.6 88.9,179.3 89.3,178.9 89.6,178.4 89.8,177.9 89.9,177.4 90,176.8 90.1,176.2 90.1,175.5 90.2,174.9 90.2,174.2 90.3,173.5 90.5,172.8 90.7,172.2 91,171.6 91.3,171 91.7,170.5 92.1,170.2 92.6,170 93.2,169.9 93.8,170 94.4,170.2 95,170.5 95.6,170.9 96.1,171.3 96.6,171.5 97,171.6 97.4,171.4 97.8,171.1 98.2,170.6 98.5,169.9 98.8,169.2 99.1,168.5 99.3,167.8 99.5,167.1 99.7,166.5 99.9,165.8 100,165.2 100.2,164.7 100.5,164.2 100.8,163.8 101.1,163.4 101.5,163 102,162.8 102.6,162.5 103.2,162.3 103.8,162.1 104.4,162 105,161.8 105.6,161.6 106.2,161.4 106.7,161.2 107.2,160.9 107.6,160.5 108,160.2 108.2,159.7 108.5,159.2 108.7,158.7 108.8,158.1 109,157.5 109.1,156.8 109.2,156.1 109.3,155.3 109.4,154.5 109.5,153.7 109.6,152.9 109.7,152 109.8,151.2 110,150.5 110.1,149.8 110.3,149.2 110.5,148.7 110.7,148.3 110.9,148.1 111.2,148.1 111.5,148.2 111.8,148.5 112.1,148.9 112.5,149.5 112.8,150.1 113.2,150.8 113.5,151.5 113.8,152.2 114.2,152.9 114.5,153.5 114.9,154 115.2,154.5 115.6,154.8 116,155 116.4,155.1 116.8,155 117.3,154.8 117.7,154.4 118.2,153.9 118.6,153.3 119,152.7 119.4,152 119.7,151.2 120,150.4 120.2,149.6 120.4,148.8 120.6,148 120.7,147.2 120.9,146.4 121,145.6 121.1,144.9 121.2,144.2 121.3,143.7 121.4,143.1 121.6,142.7 121.7,142.4 121.9,142.2 122,142.1 122.3,142.1 122.5,142.2 122.8,142.5 123.1,142.9 123.4,143.5 123.7,144 124.1,144.7 124.4,145.4 124.7,146.1 125,146.9 125.3,147.7 125.6,148.4 125.9,149.1 126.2,149.7 126.4,150.2 126.7,150.7 127,151 127.2,151.1 127.5,151.1 127.7,150.9 128,150.5 128.2,150.1 128.5,149.5 128.8,148.9 129.2,148.2 129.5,147.5 129.9,146.8 130.3,146.2 130.8,145.6 131.3,145 131.8,144.6 132.3,144.4 132.8,144.3 133.2,144.4 133.6,144.7 133.9,145.2 134.3,145.7 134.6,146.4 134.9,147.1 135.3,147.7 135.7,148.4 136.1,149 136.5,149.5 136.9,149.9 137.3,150.1 137.7,150.2 138,150.1 138.3,149.9 138.6,149.5 138.9,149 139.2,148.4 139.4,147.7 139.6,146.9 139.8,146.1 140,145.2 140.2,144.4 140.3,143.5 140.5,142.7 140.7,141.9 140.8,141.1 141,140.4 141.1,139.7 141.3,139.1 141.5,138.6 141.7,138.2 141.9,137.9 142.2,137.7 142.4,137.7 142.7,137.8 143,138.1 143.4,138.4 143.7,138.9 144.1,139.5 144.4,140.1 144.7,140.8 145.1,141.6 145.4,142.3 145.6,143.1 145.9,143.9 146.1,144.7 146.4,145.4 146.6,146.1 146.8,146.7 147,147.3 147.3,147.8 147.5,148.2 147.7,148.5 147.9,148.7 148.1,148.7 148.4,148.6 148.6,148.4 148.9,148 149.2,147.6 149.4,147.1 149.7,146.5 150,145.8 150.3,145.1 150.5,144.3 150.8,143.5 151.1,142.7 151.4,141.9 151.6,141.1 151.9,140.3 152.2,139.6 152.4,138.9 152.7,138.4 153,137.9 153.2,137.6 153.5,137.4 153.8,137.3 154.1,137.4 154.3,137.7 154.6,138.1 154.9,138.6 155.2,139.2 155.5,139.9 155.7,140.7 156,141.4 156.3,142.2 156.6,143.1 156.8,143.8 157.1,144.6 157.4,145.3 157.7,146 157.9,146.5 158.2,147 158.5,147.4 158.7,147.6 159,147.7 159.2,147.6 159.5,147.4 159.7,147.1 160,146.6 160.3,146.1 160.6,145.5 160.9,144.8 161.2,144.2 161.6,143.5 162,142.8 162.5,142.2 162.9,141.7 163.4,141.2 163.9,140.9 164.4,140.7 164.8,140.7 165.2,140.9 165.7,141.3 166,141.7 166.4,142.3 166.8,143 167.1,143.7 167.4,144.4 167.7,145.2 168,145.9 168.3,146.7 168.5,147.4 168.8,148 169,148.6 169.2,149 169.5,149.4 169.7,149.6 169.9,149.7 170.1,149.6 170.3,149.4 170.5,149 170.7,148.6 170.9,148 171.1,147.4 171.3,146.6 171.5,145.9 171.7,145.1 171.9,144.3 172.2,143.4 172.4,142.7 172.7,141.9 172.9,141.2 173.2,140.6 173.5,140.1 173.8,139.7 174.1,139.4 174.3,139.3 174.6,139.4 174.9,139.6 175.1,139.9 175.4,140.4 175.7,141 175.9,141.7 176.1,142.4 176.4,143.2 176.6,144.1 176.8,144.9 176.9,145.8 177.1,146.7 177.3,147.5 177.4,148.3 177.6,149.1 177.8,149.8 177.9,150.4 178.1,151 178.3,151.4 178.6,151.8 178.8,152 179.1,152.1 179.4,152.1 179.7,151.9 180.1,151.5 180.4,151.1 180.8,150.6 181.2,150 181.6,149.3 181.9,148.6 182.3,147.9 182.6,147.3 183,146.7 183.3,146.2 183.6,145.8 183.9,145.7 184.3,145.8 184.6,146 184.9,146.4 185.2,147 185.5,147.6 185.8,148.4 186.1,149.2 186.4,150 186.7,150.8 186.9,151.6 187.2,152.4 187.4,153.1 187.7,153.7 187.9,154.3 188.1,154.8 188.3,155.1 188.5,155.3 188.7,155.3 188.9,155.1 189.2,154.8 189.4,154.4 189.6,153.9 189.8,153.3 190.1,152.6 190.3,151.9 190.6,151.2 190.9,150.4 191.3,149.8 191.6,149.1 192,148.6 192.5,148.1 193,147.8 193.4,147.7 194,147.7 194.5,148 195,148.3 195.6,148.7 196.1,149.1 196.6,149.5 197.1,149.8 197.6,150.2 198.1,150.6 198.5,151 198.9,151.4 199.3,151.9 199.6,152.4 199.9,153.1 200.2,153.8 200.4,154.5 200.7,155.2 200.9,155.9 201.1,156.6 201.2,157.2 201.4,157.8 201.6,158.2 201.8,158.5 202,158.7 202.1,158.7 202.3,158.5 202.5,158.2 202.8,157.8 203,157.2 203.2,156.6 203.4,155.9 203.7,155.1 203.9,154.3 204.2,153.5 204.4,152.7 204.7,151.9 204.9,151.1 205.2,150.4 205.5,149.8 205.7,149.3 206,148.9 206.3,148.7 206.6,148.7 206.9,148.9 207.1,149.3 207.4,149.8 207.8,150.4 208.1,151.1 208.4,151.8 208.7,152.6 209.1,153.3 209.4,154 209.8,154.6 210.2,155.1 210.6,155.3 210.9,155.3 211.3,154.9 211.7,154.4 212,153.8 212.4,153.2 212.8,152.6 213.2,152.2 213.6,152 214,152.1 214.5,152.4 214.9,152.9 215.4,153.5 215.8,154.2 216.1,155 216.4,155.8 216.7,156.6 217,157.4 217.2,158.2 217.4,158.9 217.6,159.6 217.8,160.1 217.9,160.6 218.1,161 218.3,161.2 218.4,161.3 218.6,161.2 218.8,161 219,160.6 219.3,160.1 219.6,159.5 219.9,158.8 220.2,158.1 220.5,157.4 220.9,156.7 221.3,156 221.7,155.5 222.2,155 222.6,154.7 223,154.7 223.4,154.9 223.8,155.3 224.2,155.8 224.7,156.4 225.1,157 225.6,157.4 226.1,157.7 226.6,157.8 227.2,157.7 227.8,157.5 228.4,157.4 229.1,157.3 229.6,157.4 230.2,157.5 230.7,157.9 231.2,158.3 231.6,158.9 232,159.5 232.3,160.2 232.6,160.9 232.8,161.7 233,162.4 233.2,163 233.4,163.5 233.7,163.9 233.9,164.1 234.1,164.2 234.4,164 234.8,163.7 235.1,163.3 235.5,162.7 235.9,162.1 236.3,161.4 236.7,160.8 237.1,160.1 237.5,159.6 237.9,159.1 238.4,158.7 238.8,158.4 239.3,158.2 239.8,158.1 240.4,158.1 241,158.2 241.6,158.4 242.2,158.5 242.8,158.7 243.4,158.8 244,158.9 244.6,159 245.2,159.2 245.7,159.4 246.2,159.8 246.7,160.3 247.1,160.9 247.4,161.6 247.7,162.3 248,163 248.2,163.6 248.4,164.2 248.6,164.5 248.8,164.8 248.9,164.8 249,164.6 249.1,164.2 249.2,163.7 249.3,163.1 249.4,162.4 249.6,161.6 249.7,160.9 250,160.1 250.3,159.4 250.6,158.7 251,158.2 251.5,157.7 252.1,157.4 252.7,157.3 253.3,157.2 253.9,157.3 254.5,157.4 255.1,157.7 255.6,157.9 256.1,158.2 256.7,158.5 257.2,158.7 257.8,158.9 258.4,159 259,159 259.6,158.9 260.2,158.7 260.9,158.4 261.5,158.1 262,157.8 262.6,157.7 263,157.7 263.4,158 263.7,158.5 263.9,159.2 264.1,159.9 264.3,160.7 264.4,161.4 264.6,162.1 264.8,162.7 265,163.2 265.3,163.4 265.6,163.4 266,163.1 266.5,162.7 266.9,162.2 267.4,161.7 267.9,161.1 268.4,160.6 268.9,160.2 269.4,159.8 269.9,159.5 270.4,159.2 270.9,158.9 271.4,158.6 272,158.3 272.6,158.1 273.2,157.8 273.7,157.7 274.3,157.7 274.8,157.8 275.2,158.1 275.6,158.5 276.1,158.9 276.5,159.4 276.9,159.9 277.4,160.4 277.9,160.9 278.5,161.3 279.1,161.6 279.7,161.8 280.2,161.7 280.6,161.5 281,161.1 281.3,160.5 281.5,159.8 281.7,159.1 281.9,158.3 282.1,157.5 282.2,156.8 282.4,156.2 282.5,155.7 282.7,155.4 283,155.3 283.3,155.4 283.6,155.8 284,156.3 284.3,156.9 284.7,157.5 285.1,158.2 285.4,158.9 285.7,159.6 286,160.2 286.3,160.8 286.7,161.3 287,161.8 287.4,162.2 287.8,162.5 288.3,162.8 288.8,162.9 289.5,163 290.1,163.1 290.7,163 291.3,162.8 291.8,162.6 292.2,162.3 292.6,161.9 293,161.4 293.3,160.8 293.6,160.2 293.9,159.5 294.2,158.8 294.5,158.1 294.9,157.4 295.2,156.8 295.4,156.4 295.7,156.1 295.9,156.1 296,156.3 296.1,156.8 296.2,157.4 296.3,158.1 296.4,158.9 296.5,159.7 296.6,160.6 296.7,161.4 296.9,162.1 297.1,162.7 297.4,163.1 297.7,163.4 298.2,163.4 298.7,163.2 299.2,162.9 299.7,162.4 300.2,161.9 300.7,161.4 301.1,160.9 301.5,160.4 301.9,159.9 302.3,159.5 302.7,159.1 303.2,158.8 303.7,158.6 304.3,158.4 305,158.3 305.6,158.4 306.2,158.6 306.7,158.9 307.1,159.4 307.5,160 307.9,160.6 308.2,161.2 308.6,161.7 308.9,162 309.4,162.2 309.8,162.1 310.4,161.9 310.9,161.4 311.3,160.9 311.6,160.2 311.9,159.5 312.1,158.7 312.2,157.9 312.2,157.1 312.3,156.4 312.3,155.7 312.4,155 312.4,154.5 312.6,154.1 312.7,153.8 313,153.7 313.4,153.8 313.8,154 314.3,154.4 314.8,154.9 315.3,155.4 315.7,156 316.1,156.6 316.3,157.2 316.6,157.7 316.9,158.2 317.2,158.7 317.6,159.1 318.1,159.4 318.6,159.6 319.2,159.8 319.9,159.8 320.5,159.7 321.1,159.6 321.6,159.3 322,159 322.5,158.5 322.9,158 323.3,157.4 323.7,156.8 324,156.1 324.4,155.3 324.7,154.6 325,153.9 325.3,153.2 325.6,152.5 325.9,152 326.2,151.5 326.4,151.1 326.7,150.8 326.9,150.7 327.1,150.7 327.3,150.9 327.5,151.3 327.7,151.7 327.8,152.3 328,153 328.2,153.8 328.3,154.6 328.5,155.4 328.7,156.2 328.9,157 329.1,157.7 329.3,158.4 329.6,159 329.8,159.4 330.1,159.8 330.4,160 330.8,160 331.2,159.8 331.6,159.5 332,159.1 332.4,158.6 332.9,158 333.3,157.3 333.8,156.7 334.3,156.1 334.8,155.5 335.3,155.1 335.7,154.7 336.2,154.4 336.6,154.3 337,154.4 337.4,154.6 337.7,155 338,155.5 338.4,156.1 338.7,156.8 339.1,157.4 339.4,158.1 339.8,158.7 340.2,159.3 340.6,159.7 341,159.9 341.3,160 341.6,159.9 341.9,159.6 342.1,159.1 342.4,158.5 342.6,157.8 342.8,157 343,156.2 343.1,155.4 343.3,154.5 343.4,153.7 343.5,152.9 343.7,152.2 343.8,151.6 343.9,151.2 344,150.8 344.1,150.7 344.3,150.7 344.4,150.9 344.5,151.2 344.7,151.7 344.9,152.2 345.1,152.9 345.3,153.6 345.6,154.3 345.8,155.1 346.2,155.9 346.5,156.7 346.9,157.4 347.4,158.1 347.9,158.8 348.4,159.3 348.9,159.6 349.4,159.8 349.8,159.7 350.2,159.4 350.5,158.9 350.9,158.3 351.2,157.6 351.6,157.1 352,156.8 352.5,156.6 353,156.7 353.7,157 354.3,157.2 354.9,157.5 355.5,157.7 356,157.7 356.4,157.5 356.8,157.1 357.1,156.5 357.4,155.9 357.6,155.1 357.8,154.3 357.9,153.5 358.1,152.7 358.2,151.9 358.3,151.2 358.4,150.6 358.5,150.1 358.6,149.8 358.7,149.7 358.9,149.8 359.1,150.1 359.3,150.5 359.6,151 359.8,151.7 360.1,152.4 360.5,153.1 360.8,153.9 361.2,154.6 361.6,155.2 362.1,155.8 362.5,156.3 362.9,156.6 363.3,156.7 363.7,156.6 364.1,156.3 364.4,155.9 364.7,155.4 365,154.8 365.4,154.1 365.8,153.5 366.2,152.8 366.7,152.2 367.2,151.8 367.7,151.4 368.3,151.3 368.8,151.3 369.3,151.6 369.8,152.1 370.2,152.7 370.6,153.3 371,153.8 371.2,154.1 371.5,154.1 371.7,153.9 371.8,153.5 371.9,153 372,152.3 372.1,151.5 372.3,150.7 372.4,149.8 372.5,149 372.8,148.3 373,147.6 373.4,147.1 373.8,146.8 374.3,146.6 374.9,146.7 375.4,147 376,147.4 376.5,147.9 376.9,148.6 377.2,149.3 377.5,150 377.7,150.7 377.8,151.3 378,151.9 378.1,152.3 378.2,152.6 378.4,152.7 378.6,152.6 378.8,152.3 379,151.9 379.3,151.3 379.6,150.7 379.9,150 380.3,149.3 380.7,148.6 381.2,147.9 381.7,147.2 382.2,146.7 382.7,146.3 383.3,146.1 383.8,146 384.2,146.2 384.7,146.6 385.1,147.2 385.5,147.8 385.8,148.4 386.1,149 386.5,149.4 386.8,149.7 387.1,149.7 387.4,149.5 387.7,149 388,148.5 388.3,147.8 388.5,147 388.8,146.1 389.1,145.3 389.3,144.5 389.5,143.7 389.8,143.1 390,142.6 390.2,142.2 390.4,142.1 390.6,142.2 390.7,142.5 390.9,143 391.1,143.7 391.3,144.4 391.5,145.2 391.7,146 391.9,146.7 392.2,147.4 392.5,148 392.9,148.4 393.3,148.7 393.8,148.7 394.4,148.6 394.9,148.3 395.5,148 396.1,147.8 396.8,147.6 397.4,147.6 398,147.7 398.6,148 399.1,148.4 399.5,148.9 400,149.5 400.3,150.1 400.6,150.8 400.9,151.3 401.2,151.6 401.5,151.7 401.8,151.5 402,151.1 402.3,150.6 402.6,149.9 402.8,149.1 403.1,148.4 403.4,147.6 403.7,147 404,146.5 404.3,146.1 404.6,146.1 405,146.2 405.3,146.5 405.7,147.1 406,147.7 406.4,148.5 406.7,149.3 407,150.2 407.2,151.1 407.5,152 407.7,152.8 407.9,153.6 408.2,154.3 408.4,155 408.6,155.4 408.9,155.7 409.1,155.9 409.4,155.8 409.7,155.5 410,155 410.3,154.4 410.6,153.8 411,153.2 411.4,152.8 411.7,152.6 412.1,152.7 412.4,153 412.8,153.5 413.2,154.1 413.5,154.8 413.9,155.5 414.2,156.2 414.6,156.9 414.9,157.5 415.3,158 415.6,158.5 415.9,158.9 416.2,159.4 416.5,159.8 416.8,160.3 417.1,160.8 417.4,161.4 417.7,162.1 417.9,162.8 418.2,163.5 418.5,164.2 418.8,164.7 419.1,165 419.5,165.1 419.9,164.9 420.4,164.5 420.8,164 421.3,163.5 421.7,163 422.1,162.7 422.5,162.6 422.8,162.7 423.1,163 423.4,163.5 423.6,164.1 423.8,164.8 424.1,165.5 424.3,166.3 424.5,167.1 424.8,167.9 425.1,168.7 425.4,169.3 425.7,169.9 426.1,170.4 426.5,170.9 426.9,171.4 427.3,171.8 427.7,172.2 428.1,172.6 428.5,173 428.8,173.4 429.2,173.8 429.5,174.3 429.9,174.8 430.2,175.3 430.5,175.8 430.7,176.3 431,176.9 431.3,177.4 431.5,178 431.8,178.6 432,179.1 432.3,179.7 432.5,180.2 432.8,180.8 433.1,181.3 433.4,181.8 433.6,182.4 433.9,182.9 434.2,183.4 434.4,183.9 434.7,184.5 435,185 435.3,185.5 435.5,186.1 435.8,186.6 436,187.2 436.3,187.7 436.5,188.3 436.8,188.9 437,189.5 437.3,190.1 437.5,190.6 437.8,191.2 438.2,191.7 438.5,192.1 438.9,192.5 439.4,192.9 439.9,193.1 440.5,193.4 441,193.6 441.6,193.8 442.2,193.9 442.8,194.1 443.4,194.3 443.9,194.5 444.4,194.8 444.9,195.2 445.3,195.6 445.7,196 446,196.5 446.3,197 446.6,197.5 446.9,198.1 447.2,198.7 447.5,199.2 447.8,199.8 448.1,200.3 448.4,200.8 448.8,201.3 449.2,201.8 449.6,202.2 450,202.7 450.4,203.1 450.9,203.5 451.3,203.9 451.8,204.3 452.2,204.7 452.7,205.1 453.1,205.5 453.6,205.9 454,206.3 454.4,206.7 454.9,207.2 455.3,207.6 455.7,208 456.1,208.4 456.5,208.9 456.9,209.3 457.4,209.8 457.8,210.2 458.2,210.6 458.6,211.1 459,211.5 459.4,211.9 459.9,212.3 460.3,212.8 460.7,213.2 461.1,213.6 461.5,214.1 462,214.5 462.4,214.9" fill="none" stroke="#daa520" stroke-width="2.9" stroke-linecap="round" stroke-linejoin="round"/>
<path d="M47.4,213.4 47.6,212.8 47.7,212.2 47.9,211.7 48.1,211.1 48.3,210.5 48.4,209.9 48.6,209.4 48.8,208.8 49,208.2 49.2,207.6 49.5,207.1 49.7,206.5 50,206 50.3,205.4 50.6,204.9 50.9,204.4 51.3,203.9 51.7,203.5 52.1,203 52.6,202.6 53,202.3 53.6,201.9 54.1,201.6 54.7,201.4 55.3,201.2 55.8,200.9 56.4,200.7 56.9,200.4 57.3,200 57.7,199.6 58,199.1 58.3,198.6 58.5,198 58.7,197.4 58.9,196.8 59,196.1 59.2,195.4 59.3,194.7 59.5,194 59.6,193.4 59.8,192.8 60.1,192.2 60.4,191.8 60.7,191.5 61.2,191.2 61.7,191.1 62.3,191 63,191 63.6,190.9 64.3,190.9 64.9,190.7 65.5,190.4 66,190.2 66.5,189.8 66.9,189.4 67.3,188.9 67.6,188.4 67.8,187.9 68,187.4 68.2,186.8 68.4,186.2 68.6,185.6 68.8,185.1 69.1,184.5 69.4,183.9 69.8,183.4 70.3,182.9 70.8,182.5 71.4,182.2 71.9,182.2 72.5,182.4 73,182.8 73.4,183.3 73.9,183.8 74.3,184.1 74.7,184.2 75.2,184.1 75.6,183.8 76,183.3 76.3,182.6 76.7,181.9 77,181.1 77.3,180.3 77.6,179.5 77.9,178.7 78.2,177.9 78.4,177.2 78.7,176.6 78.9,176.1 79.2,175.6 79.4,175.3 79.7,175.2 80,175.2 80.3,175.4 80.6,175.7 81,176.2 81.4,176.7 81.8,177.3 82.2,177.9 82.7,178.4 83.1,178.9 83.6,179.3 84.1,179.7 84.7,179.9 85.3,180.1 85.9,180.2 86.5,180.2 87.1,180.1 87.7,179.9 88.3,179.7 88.8,179.4 89.2,179 89.6,178.5 89.8,178 90.1,177.5 90.3,177 90.5,176.4 90.8,175.8 91.1,175.2 91.4,174.7 91.8,174.2 92.4,173.7 92.9,173.3 93.5,173.2 94,173.3 94.4,173.6 94.7,174.2 95.1,174.8 95.4,175.4 95.7,175.9 96.1,176.3 96.5,176.4 97,176.3 97.6,176 98.1,175.6 98.7,175.2 99.3,174.7 99.9,174.3 100.5,173.9 101.1,173.5 101.6,173.3 102.2,173.2 102.8,173.2 103.3,173.3 103.9,173.6 104.5,173.9 105,174.3 105.6,174.6 106.1,174.9 106.6,175.1 107.1,175.2 107.6,175.1 108,174.8 108.5,174.4 108.9,173.9 109.2,173.2 109.6,172.5 109.9,171.8 110.1,171 110.4,170.3 110.6,169.5 110.8,168.9 111,168.3 111.3,167.8 111.5,167.4 111.8,167.2 112.1,167.2 112.5,167.4 112.9,167.7 113.3,168.2 113.7,168.7 114.2,169.4 114.6,170 115,170.7 115.4,171.4 115.8,172 116.1,172.5 116.5,172.9 116.8,173.1 117.2,173.2 117.5,173.1 117.8,172.9 118.1,172.5 118.5,172 118.8,171.4 119.1,170.7 119.4,169.9 119.7,169.1 120,168.3 120.2,167.5 120.5,166.7 120.8,165.9 121.1,165.2 121.4,164.5 121.6,164 121.9,163.6 122.2,163.3 122.5,163.2 122.8,163.3 123.2,163.5 123.5,163.9 123.9,164.4 124.3,165 124.7,165.7 125.1,166.3 125.5,167 126,167.6 126.5,168.1 127,168.5 127.4,168.7 127.9,168.8 128.2,168.7 128.6,168.4 128.9,168 129.3,167.4 129.6,166.8 130,166.2 130.4,165.7 130.8,165.2 131.4,164.8 131.9,164.5 132.5,164.3 133.1,164.2 133.7,164.2 134.3,164.3 134.9,164.4 135.4,164.7 135.9,165.1 136.3,165.5 136.7,166.1 137.1,166.8 137.4,167.5 137.7,168.3 137.9,168.9 138.2,169.4 138.5,169.6 138.7,169.5 139,169.2 139.4,168.6 139.7,167.9 140,167.3 140.3,166.7 140.7,166.1 141,165.6 141.3,165.1 141.6,164.7" fill="none" stroke="#ff4500" stroke-width="2.9" stroke-linecap="round" stroke-linejoin="round"/>
<path d="M140,145.2 140.1,144.3 140.3,143.4 140.4,142.6 140.6,141.8 140.8,141 140.9,140.3 141.1,139.7 141.3,139.2 141.5,138.8 141.8,138.4 142,138.2 142.3,138.2 142.6,138.3 142.9,138.5 143.3,138.9 143.6,139.4 143.9,139.9 144.3,140.6 144.6,141.3 144.9,142 145.2,142.8 145.5,143.5 145.8,144.3 146,145.1 146.2,145.8 146.5,146.5 146.7,147.2 146.9,147.7 147.1,148.2 147.3,148.7 147.6,149 147.8,149.1 148,149.2 148.3,149.1 148.5,148.9 148.8,148.6 149,148.2 149.3,147.6 149.6,147 149.9,146.4 150.1,145.7 150.4,144.9 150.7,144.1 151,143.3 151.2,142.5 151.5,141.7 151.8,140.9 152.1,140.2 152.3,139.5 152.6,138.9 152.9,138.5 153.1,138.1 153.4,137.9 153.7,137.8 153.9,137.9 154.2,138.1 154.5,138.5 154.8,139 155,139.7 155.3,140.3 155.6,141.1 155.9,141.9 156.2,142.7 156.4,143.5 156.7,144.3 157,145 157.3,145.7 157.5,146.4 157.8,147 158.1,147.5 158.3,147.8 158.6,148.1 158.8,148.2 159.1,148.2 159.4,148 159.6,147.6 159.9,147.2 160.2,146.7 160.5,146 160.8,145.4 161.1,144.7 161.5,144 161.9,143.4 162.3,142.8 162.8,142.2 163.3,141.8 163.7,141.4 164.2,141.2 164.7,141.2 165.1,141.4 165.5,141.7 165.9,142.2 166.3,142.7 166.6,143.4 167,144.1 167.3,144.9 167.6,145.6 167.9,146.4 168.1,147.1 168.4,147.8 168.7,148.4 168.9,149 169.1,149.5 169.3,149.9 169.6,150.1 169.8,150.2 170,150.1 170.2,149.9 170.4,149.6 170.6,149.1 170.8,148.6 171,147.9 171.2,147.2 171.4,146.4 171.6,145.6 171.8,144.8 172.1,144 172.3,143.2 172.6,142.5 172.8,141.8 173.1,141.1 173.4,140.6 173.7,140.2 173.9,139.9 174.2,139.8 174.5,139.8 174.8,140.1 175,140.4 175.3,140.9 175.5,141.5 175.8,142.1 176,142.9 176.2,143.7 176.4,144.5 176.6,145.4 176.8,146.2 177,147.1 177.2,147.9 177.3,148.8 177.5,149.5 177.7,150.2 177.8,150.9 178,151.4 178.2,151.9 178.4,152.3 178.7,152.5 178.9,152.6 179.2,152.6 179.6,152.4 179.9,152.1 180.3,151.7 180.7,151.1 181.1,150.5 181.4,149.9 181.8,149.2 182.2,148.5 182.5,147.8 182.8,147.2 183.2,146.7 183.5,146.4 183.8,146.2 184.1,146.2 184.4,146.5 184.8,146.9 185.1,147.4 185.4,148.1 185.7,148.8 186,149.6 186.3,150.4 186.5,151.2 186.8,152 187.1,152.8 187.3,153.5 187.5,154.2 187.8,154.8 188,155.2 188.2,155.6 188.4,155.8 188.6,155.8 188.8,155.7 189,155.4 189.2,155 189.5,154.4 189.7,153.8 189.9,153.2 190.2,152.5 190.5,151.7 190.8,151 191.1,150.3 191.5,149.7 191.9,149.1 192.3,148.7 192.8,148.3 193.3,148.2 193.8,148.2 194.3,148.4 194.9,148.7 195.4,149.1 196,149.5 196.5,149.9 197,150.3 197.5,150.7 197.9,151 198.4,151.4 198.8,151.8 199.1,152.3 199.5,152.9 199.8,153.5 200.1,154.2 200.3,154.9 200.5,155.7 200.7,156.4 200.9,157.1 201.1,157.7 201.3,158.2 201.5,158.7 201.7,159 201.8,159.2 202,159.2 202.2,159 202.4,158.7 202.6,158.3 202.9,157.8 203.1,157.2 203.3,156.5 203.5,155.7 203.8,154.9 204,154.1 204.3,153.2 204.5,152.4 204.8,151.7 205.1,150.9 205.3,150.3 205.6,149.8 205.9,149.4 206.2,149.2 206.4,149.2 206.7,149.4 207,149.7 207.3,150.2 207.6,150.8 207.9,151.5 208.3,152.2 208.6,153 209,153.8 209.3,154.5 209.7,155.1 210.1,155.5 210.4,155.8 210.8,155.8 211.2,155.5 211.5,155 211.9,154.4 212.3,153.8 212.7,153.2 213.1,152.8 213.5,152.5 213.9,152.6 214.4,152.9 214.8,153.3 215.2,154 215.6,154.7 216,155.4 216.3,156.2 216.6,157 216.9,157.8 217.1,158.6 217.3,159.3 217.5,160 217.6,160.6 217.8,161.1 218,161.5 218.1,161.7 218.3,161.8 218.5,161.7 218.7,161.5 218.9,161.1 219.2,160.6 219.4,160 219.7,159.4 220,158.7 220.4,158 220.8,157.3 221.2,156.6 221.6,156 222,155.5 222.5,155.3 222.9,155.2 223.3,155.4 223.7,155.8 224.1,156.3 224.5,156.9 225,157.4 225.4,157.9 225.9,158.2 226.5,158.3 227.1,158.2 227.7,158.1 228.3,157.9 228.9,157.8 229.5,157.8 230.1,158 230.6,158.3 231.1,158.8 231.5,159.3 231.9,160 232.2,160.7 232.4,161.4 232.7,162.1 232.9,162.8 233.1,163.4 233.3,164 233.5,164.4 233.8,164.6 234,164.7 234.3,164.6 234.6,164.2 235,163.8 235.4,163.2 235.7,162.6 236.1,162 236.5,161.3 236.9,160.7 237.4,160.1 237.8,159.6 238.2,159.2 238.7,158.9 239.2,158.7 239.7,158.6 240.2,158.6 240.8,158.7 241.4,158.9 242,159 242.7,159.2 243.3,159.3 243.9,159.4 244.5,159.5 245.1,159.7 245.6,159.9 246.1,160.3 246.5,160.8 246.9,161.4 247.3,162.1 247.6,162.8 247.9,163.5 248.1,164.1 248.3,164.6 248.5,165 248.6,165.3 248.8,165.3 248.9,165.1 249,164.8 249.1,164.3 249.2,163.6 249.3,162.9 249.5,162.2 249.6,161.4 249.9,160.6 250.1,159.9 250.5,159.3 250.9,158.7 251.4,158.3 252,158 252.6,157.8 253.2,157.7 253.8,157.8 254.4,157.9 254.9,158.1 255.5,158.4 256,158.7 256.5,159 257.1,159.2 257.6,159.4 258.2,159.5 258.8,159.5 259.5,159.4 260.1,159.2 260.7,158.9 261.3,158.6 261.9,158.3 262.4,158.2 262.9,158.2 263.2,158.5 263.5,159 263.8,159.6 264,160.4 264.2,161.1 264.3,161.9 264.5,162.6 264.7,163.2 264.9,163.7 265.2,163.9 265.5,163.9 265.9,163.7 266.3,163.3 266.8,162.8 267.3,162.2 267.8,161.6 268.3,161.1 268.8,160.7 269.2,160.3 269.7,160 270.2,159.7 270.7,159.4 271.3,159.2 271.9,158.9 272.5,158.6 273,158.4 273.6,158.2 274.2,158.2 274.6,158.3 275.1,158.6 275.5,158.9 275.9,159.4 276.3,159.9 276.8,160.4 277.3,160.9 277.8,161.4 278.4,161.8 279,162.1 279.5,162.2 280.1,162.2 280.5,162 280.9,161.6 281.2,161 281.4,160.4 281.6,159.6 281.8,158.8 281.9,158.1 282.1,157.3 282.2,156.7 282.4,156.2 282.6,155.9 282.9,155.8 283.2,155.9 283.5,156.2 283.8,156.7 284.2,157.3 284.6,158 285,158.7 285.3,159.4 285.6,160.1 285.9,160.7 286.2,161.3 286.5,161.8 286.9,162.2 287.3,162.6 287.7,163 288.2,163.2 288.7,163.4 289.3,163.5 290,163.6 290.6,163.5 291.2,163.4 291.7,163.1 292.1,162.8 292.5,162.4 292.8,161.9 293.2,161.3 293.5,160.7 293.8,160 294.1,159.3 294.4,158.6 294.7,157.9 295,157.4 295.3,156.9 295.6,156.6 295.8,156.6 295.9,156.8 296,157.2 296.1,157.8 296.2,158.5 296.3,159.3 296.4,160.2 296.5,161 296.6,161.8 296.8,162.5 297,163.2 297.3,163.6 297.6,163.9 298,163.9 298.5,163.7 299.1,163.4 299.6,162.9 300.1,162.4 300.6,161.9 301,161.4 301.4,160.9 301.8,160.4 302.2,160 302.6,159.6 303.1,159.3 303.6,159.1 304.2,158.9 304.8,158.8 305.5,158.9 306,159.1 306.6,159.4 307,159.9 307.4,160.5 307.8,161.1 308.1,161.6 308.4,162.1 308.8,162.5 309.2,162.7 309.7,162.6 310.2,162.4 310.7,162 311.2,161.4 311.5,160.7 311.8,160 312,159.2 312.1,158.4 312.1,157.7 312.2,156.9 312.2,156.2 312.3,155.6 312.3,155 312.4,154.6 312.6,154.3 312.9,154.2 313.3,154.3 313.7,154.5 314.2,154.9 314.7,155.4 315.2,155.9 315.6,156.5 315.9,157.1 316.2,157.6 316.5,158.2 316.8,158.7 317.1,159.2 317.5,159.6 318,159.9 318.5,160.1 319.1,160.2 319.7,160.3 320.4,160.2 320.9,160.1 321.4,159.8 321.9,159.5 322.4,159 322.8,158.5 323.2,157.9 323.5,157.3 323.9,156.6 324.3,155.9 324.6,155.1 324.9,154.4 325.2,153.7 325.5,153.1 325.8,152.5 326.1,152 326.3,151.6 326.6,151.3 326.8,151.2 327,151.2 327.2,151.4 327.4,151.7 327.6,152.2 327.7,152.8 327.9,153.5 328.1,154.2 328.2,155 328.4,155.8 328.6,156.6 328.8,157.4 329,158.2 329.2,158.9 329.5,159.4 329.7,159.9 330,160.3 330.3,160.5 330.7,160.5 331,160.3 331.4,160 331.9,159.6 332.3,159.1 332.7,158.5 333.2,157.9 333.7,157.2 334.2,156.6 334.7,156.1 335.1,155.6 335.6,155.2 336,154.9 336.5,154.8 336.9,154.9 337.2,155.1 337.6,155.5 337.9,156 338.3,156.6 338.6,157.2 339,157.9 339.3,158.6 339.7,159.2 340.1,159.8 340.5,160.2 340.8,160.4 341.2,160.5 341.5,160.4 341.8,160.1 342,159.6 342.3,159 342.5,158.3 342.7,157.6 342.9,156.8 343,155.9 343.2,155.1 343.3,154.3 343.4,153.5 343.6,152.8 343.7,152.2 343.8,151.7 343.9,151.3 344,151.2 344.2,151.2 344.3,151.4 344.4,151.7 344.6,152.1 344.8,152.7 345,153.3 345.2,154 345.4,154.8 345.7,155.6 346.1,156.4 346.4,157.2 346.8,157.9 347.3,158.6 347.8,159.2 348.3,159.8 348.8,160.1 349.3,160.3 349.7,160.2 350.1,159.9 350.4,159.4 350.8,158.8 351.1,158.2 351.4,157.6 351.9,157.3 352.4,157.1 352.9,157.2 353.5,157.4 354.2,157.7 354.8,158 355.3,158.2 355.9,158.2 356.3,158 356.7,157.6 357,157.1 357.3,156.4 357.5,155.7 357.7,154.9 357.8,154 357.9,153.2 358.1,152.4 358.2,151.7 358.3,151.1 358.4,150.6 358.5,150.3 358.6,150.2 358.8,150.3 359,150.5 359.2,151 359.5,151.5 359.7,152.1 360,152.8 360.4,153.6 360.7,154.3 361.1,155.1 361.5,155.7 362,156.3 362.4,156.8 362.8,157.1 363.2,157.2 363.6,157.1 363.9,156.9 364.3,156.4 364.6,155.9 364.9,155.3 365.3,154.7 365.7,154 366.1,153.3 366.6,152.8 367.1,152.3 367.6,151.9 368.1,151.8 368.7,151.8 369.2,152.1 369.7,152.6 370.1,153.2 370.5,153.8 370.8,154.2 371.1,154.6 371.4,154.6 371.6,154.4 371.7,154.1 371.8,153.5 371.9,152.8 372,152 372.1,151.2 372.3,150.4 372.4,149.5 372.7,148.8 372.9,148.1 373.3,147.6 373.7,147.3 374.2,147.1 374.7,147.2 375.3,147.5 375.9,147.9 376.4,148.4 376.8,149.1 377.1,149.8 377.3,150.5 377.5,151.2 377.7,151.8 377.8,152.4 378,152.8 378.1,153.1 378.3,153.2 378.5,153.1 378.7,152.8 378.9,152.4 379.2,151.8 379.5,151.2 379.8,150.5 380.2,149.8 380.6,149.1 381.1,148.4 381.6,147.8 382.1,147.2 382.6,146.8 383.1,146.6 383.7,146.5 384.1,146.7 384.6,147.1 385,147.7 385.4,148.3 385.7,148.9 386,149.5 386.4,149.9 386.7,150.2 387,150.2 387.3,150 387.6,149.6 387.9,149 388.1,148.3 388.4,147.5 388.7,146.7 389,145.8 389.2,145 389.4,144.2 389.7,143.6 389.9,143.1 390.1,142.7 390.3,142.6 390.5,142.7 390.6,143 390.8,143.5 391,144.2 391.2,144.9 391.4,145.7 391.6,146.4 391.8,147.2 392.1,147.9 392.4,148.5 392.8,148.9 393.2,149.2 393.7,149.2 394.2,149.1 394.8,148.8 395.4,148.5 396,148.3 396.7,148.1 397.3,148.1 397.9,148.2 398.4,148.5 399,148.9 399.4,149.4 399.9,150 400.2,150.6 400.5,151.2 400.8,151.8 401.1,152.1 401.4,152.2 401.6,152 401.9,151.6 402.2,151.1 402.4,150.4 402.7,149.6 403,148.9 403.3,148.1 403.6,147.5 403.9,147 404.2,146.6 404.5,146.6 404.9,146.7 405.2,147 405.6,147.5 405.9,148.2 406.2,149 406.6,149.8 406.9,150.7 407.1,151.6 407.4,152.5 407.6,153.3 407.8,154.1 408.1,154.8 408.3,155.4 408.5,155.9 408.8,156.2 409,156.4 409.3,156.3 409.6,156 409.9,155.5 410.2,154.9 410.5,154.3 410.9,153.7 411.2,153.3 411.6,153.1 412,153.2 412.3,153.5 412.7,154 413.1,154.6 413.4,155.3 413.8,156 414.1,156.7 414.5,157.4 414.8,157.9 415.2,158.5 415.5,159 415.8,159.4 416.1,159.9 416.4,160.3 416.7,160.8 417,161.3 417.3,161.9 417.5,162.6 417.8,163.3 418.1,164 418.4,164.6 418.7,165.2 419,165.5 419.4,165.6 419.8,165.4 420.3,165 420.7,164.5 421.2,164 421.6,163.5 422,163.2 422.4,163.1 422.7,163.2 423,163.5 423.3,164 423.5,164.6 423.7,165.3 424,166 424.2,166.8 424.4,167.6 424.7,168.4 425,169.1 425.3,169.8 425.6,170.4 426,170.9 426.4,171.4 426.8,171.9 427.2,172.3 427.6,172.7 428,173.1 428.4,173.5 428.7,173.9 429.1,174.3 429.4,174.8 429.8,175.3 430.1,175.8 430.3,176.3 430.6,176.8 430.9,177.4 431.2,177.9 431.4,178.5 431.7,179.1 431.9,179.6 432.2,180.2 432.4,180.7 432.7,181.3 433,181.8 433.3,182.3 433.5,182.8 433.8,183.4 434.1,183.9 434.3,184.4 434.6,184.9 434.9,185.5 435.2,186 435.4,186.6 435.7,187.1 435.9,187.7 436.2,188.2 436.4,188.8 436.7,189.4 436.9,190 437.2,190.6 437.4,191.1 437.7,191.7 438.1,192.2 438.4,192.6 438.8,193 439.3,193.4 439.8,193.6 440.4,193.9 440.9,194.1 441.5,194.3 442.1,194.4 442.7,194.6 443.3,194.8 443.8,195 444.3,195.3 444.8,195.7 445.2,196.1 445.6,196.5 445.9,197 446.2,197.5 446.5,198 446.8,198.6 447.1,199.2 447.4,199.7 447.7,200.3 448,200.8 448.3,201.3 448.7,201.8 449.1,202.3 449.5,202.7 449.9,203.2 450.3,203.6 450.8,204 451.2,204.4 451.7,204.8 452.1,205.2 452.6,205.6 453,206 453.5,206.4 453.9,206.8 454.3,207.2 454.8,207.7 455.2,208.1 455.6,208.5 456,208.9 456.4,209.4 456.8,209.8 457.3,210.3 457.7,210.7 458.1,211.1 458.5,211.6 458.9,212 459.3,212.4 459.8,212.8 460.2,213.3 460.6,213.7 461,214.1 461.4,214.6 461.9,215 462.3,215.4" fill="none" stroke="#ff4500" stroke-width="2.9" stroke-linecap="round" stroke-linejoin="round"/>
<path d="M58.9,169.0 L63.1,170.6" stroke="#fff" stroke-width="2.0" fill="none"/>
<path d="M376.6,82.8 L379.4,81.4" stroke="#fff" stroke-width="0.9" fill="none"/>
</g>
<path id="scatter" clip-path="url(#c2)" d="M47.6,428.1h0M48.1,420.7h0M48.1,420.7h0M48.5,422.7h0M48.8,415.7h0M49.2,422.8h0M49.3,422.7h0M49.4,425.2h0M49.9,422.7h0M50,426.4h0M50.2,417.7h0M50.6,421.1h0M50.6,420.7h0M51,419.3h0M51.2,424.3h0M51.8,423.3h0M51.8,425.9h0M52.3,423.3h0M52.5,428.8h0M52.7,421.4h0M53.1,425.8h0M53.4,419.8h0M53.4,421.7h0M53.5,425.6h0M54.2,422.3h0M54.6,428.6h0M54.7,427.1h0M55,420.2h0M55.3,428.1h0M55.2,427.2h0M55.7,429h0M55.9,425.9h0M56.3,424.2h0M56.6,426.3h0M56.9,425.2h0M57.2,428.3h0M57.3,428.4h0M57.8,431.5h0M57.6,429.1h0M58.2,426.5h0M58.2,430.2h0M58.5,428.4h0M59.1,422.5h0M59.2,423.4h0M59.5,431h0M60.1,422.1h0M59.9,428.9h0M60.5,428.2h0M60.4,427.8h0M60.8,426.5h0M61,428.2h0M61.4,426.9h0M61.6,423.7h0M61.8,430.5h0M62.2,423.4h0M62.7,428.7h0M63,427.5h0M62.9,423.4h0M63.5,434.3h0M63.4,425.7h0M63.9,425.2h0M64,426.5h0M64.4,430.5h0M64.6,430h0M64.8,428.5h0M64.8,423.8h0M65.5,426.2h0M65.8,429.4h0M66.2,430.3h0M66.4,427.9h0M66.4,426.4h0M66.7,425.4h0M67,428.4h0M67.3,427.8h0M67.3,428.7h0M67.9,432h0M68.2,427.4h0M68.3,434.7h0M68.8,434.4h0M69.2,427.4h0M69.3,430.9h0M69.6,431.3h0M69.8,430.4h0M69.8,429.7h0M70.2,430.6h0M70.5,432h0M70.9,431.3h0M71.1,430.9h0M71.3,430.3h0M71.6,432h0M71.9,432.6h0M72,433.6h0M72.3,429.3h0M72.7,429.9h0M73,430h0M73.1,429.4h0M73.7,432h0M73.6,432h0M73.8,439h0M74.1,437.2h0M74.7,434.5h0M74.9,437.9h0M75.2,436.9h0M75.6,436.7h0M75.7,436.3h0M76,435.2h0M76.3,435.8h0M76.3,437h0M77,437.8h0M77,437.5h0M77.2,436.3h0M77.6,433.3h0M77.9,435.1h0M78,434.3h0M78.2,434.9h0M78.8,438.2h0M78.9,437.3h0M79.2,433.4h0M79.5,436.3h0M79.7,436.1h0M80.1,434.5h0M80,435.2h0M80.5,435h0M81,437.6h0M81,436.2h0M81.5,436.1h0M81.8,434.6h0M82,437.7h0M82.3,434.1h0M82.5,436.5h0M82.8,434.1h0M83.2,433.1h0M83.3,434.6h0M83.3,436.1h0M83.8,432.9h0M84.1,433.8h0M84,433.4h0M84.6,435h0M84.9,434.2h0M85.2,433.8h0M85.6,434.2h0M85.7,434.6h0M85.8,432.9h0M86.4,434.2h0M86.4,434.1h0M86.7,433.9h0M86.9,433.9h0M87.1,435.1h0M87.5,431.3h0M87.8,432.8h0M88.1,431.7h0M88.4,437.8h0M88.4,433.4h0M88.9,433.2h0M88.9,431.3h0M89.5,432.7h0M90,431.8h0M90,436.4h0M90.1,419.7h0M90.3,417.1h0M90.7,414.2h0M90.7,411.3h0M91.6,408.7h0M91.3,405.4h0M92,402.8h0M92.8,400.3h0M93.4,397.1h0M93.8,394h0M93.9,394.8h0M94.2,392.5h0M94.7,391.5h0M94.7,389.6h0M94.9,388.4h0M94.7,388.1h0M95.7,386h0M96.1,385.1h0M96.2,382.1h0M96.3,382.6h0M97.1,382h0M97.3,378.9h0M96.7,378.6h0M97.4,377.6h0M97.5,375.8h0M97.4,374.6h0M97.8,373.2h0M98.2,371.6h0M98.4,370.3h0M98.7,369.3h0M98.6,367.3h0M99.3,366.3h0M99.3,365.3h0M99.2,363.3h0M99.5,362.6h0M99.8,360.3h0M99.7,359.7h0M100.5,357h0M100.6,356.8h0M101,355.6h0M101.4,355.5h0M101.9,353.6h0M102.3,351.6h0M102.9,350.7h0M103.2,349.6h0M103.8,348.9h0M104.1,346.8h0M104.6,346.4h0M104.7,344.8h0M104.5,342.8h0M104.7,342.3h0M105,339.6h0M105.1,338.3h0M105.4,337.1h0M105.2,336.5h0M105.7,334.2h0M106.1,335.1h0M105.9,333.6h0M106.3,330.9h0M106.7,329h0M107.2,328.9h0M107.1,327.1h0M107.4,325.8h0M108.5,323.8h0M109.1,323.2h0M109.8,324.2h0M109.3,321.9h0M109.8,322h0M109.6,323.2h0M110.5,322.1h0M109.9,322.1h0M109.3,321.2h0M109.7,323.3h0M110.6,320.7h0M110.3,317.7h0M110.8,321.5h0M110.3,320.2h0M111,317.6h0M111.2,320.2h0M111,318.5h0M111.4,316.8h0M111.2,319.2h0M110.8,319.1h0M111.3,316h0M111.5,317.2h0M111.8,317.2h0M112.3,317.9h0M112.1,318.3h0M112,320.4h0M112.4,319.2h0M111.9,321.1h0M112.9,320h0M112.8,319.7h0M112.5,320.3h0M113.2,321.8h0M112.9,322.6h0M113.6,322.4h0M113.9,322.2h0M113.6,323.2h0M113.8,323.7h0M113.6,324.5h0M114,322.9h0M114,323.7h0M115.3,324h0M115.4,321.3h0M115,322.2h0M115.2,323.5h0M115.9,322.1h0M116.3,321h0M116,320.9h0M116.7,321.9h0M117,322.5h0M116.5,320.7h0M117.4,319.8h0M117.4,322h0M118.3,322h0M118.2,320.7h0M118.9,320.5h0M118.9,322.1h0M118.9,320.1h0M119.4,321.2h0M119.9,320.7h0M120.2,318.8h0M119.8,320.4h0M120,318.7h0M120.1,318.9h0M120.6,318.5h0M120.9,320.9h0M120.9,320.2h0M121.2,317.5h0M121.1,317.4h0M121.6,316.9h0M121.9,318.4h0M120.7,318.3h0M122.3,316.4h0M122.2,315.1h0M122,315h0M122.3,314.6h0M121.2,316.6h0M123.3,315.3h0M122.9,315.8h0M122.6,316.1h0M123.5,314h0M123.3,315.3h0M122.6,316.3h0M124.2,313.4h0M124.2,314.1h0M123.7,315.3h0M124,313.8h0M124.7,314.6h0M124.6,311.7h0M123.8,314.2h0M124.2,313.3h0M124.3,313.1h0M124.4,315.1h0M124.6,313.6h0M125.1,315.2h0M124.7,314.4h0M125.3,315.3h0M125.7,314.7h0M125.8,315.2h0M126,315.9h0M125.7,316.4h0M126.2,319h0M126,317.4h0M127,315.3h0M125.9,316.5h0M126.7,320.3h0M127.1,319.2h0M127.1,315.6h0M126.5,319.1h0M127.7,316.7h0M128.4,316.4h0M128.7,319.2h0M128.2,316.4h0M129.1,316.2h0M129.4,315.9h0M129.6,317h0M129.3,315.8h0M129.8,314.6h0M129.8,315.9h0M130.5,314.9h0M131.1,315.8h0M130.3,317.4h0M131.7,315.8h0M131,315.9h0M131.4,315.6h0M132.6,316.3h0M132.3,316.2h0M132.5,316.6h0M133.2,315.3h0M133.2,318h0M133.6,315.3h0M134.5,315.4h0M133.6,315.9h0M133.9,314.7h0M134.7,314.9h0M134.5,314.4h0M134.9,316h0M135.1,314.2h0M136.5,314.1h0M136.6,315.9h0M136.2,313.1h0M136.8,315.1h0M137.3,314.4h0M137.7,315.6h0M137,315.5h0M137.7,313.3h0M137.7,315.5h0M138.4,311.6h0M138.2,313h0M138.3,312.4h0M137.9,313.5h0M138.3,312h0M138.6,311.4h0M139.2,312.2h0M138.8,310.6h0M139.1,312.3h0M139.5,311.3h0M139.5,310.6h0M139.9,308.7h0M140.6,309.5h0M139.9,311.4h0M140.4,309.9h0M140.2,308h0M140.6,310.5h0M140.3,310.4h0M140.3,308h0M141,308.4h0M141.2,307.4h0M140.5,305.9h0M140.5,306.4h0M141.6,425.2h0M141.7,426.5h0M141.7,426.2h0M141.8,425.8h0M141.8,428.5h0M141.9,427h0M142,427.1h0M142,428.7h0M142.1,429h0M142.2,428h0M142.3,428.1h0M142.4,428.7h0M142.5,430.1h0M142.6,429.6h0M142.8,429.6h0M142.9,430.3h0M143.1,431.2h0M143.3,430h0M143.5,430.7h0M143.8,430.3h0M144.1,432.4h0M144.3,432.4h0M144.6,432h0M144.9,431.5h0M145.2,432h0M145.6,430.6h0M145.9,431.9h0M146.2,431.1h0M146.5,431.1h0M146.8,431.4h0M147.1,431.6h0M147.4,432.1h0M147.7,432.1h0M148,431.8h0M148.3,431.1h0M148.6,431.9h0M148.9,431.4h0M149.2,432h0M149.5,430.8h0M149.7,429.7h0M150,430.8h0M150.3,432.1h0M150.6,431.1h0M150.9,430.6h0M151.2,431h0M151.5,430.7h0M151.7,430.5h0M152,429.8h0M152.3,430h0M152.6,429.9h0M152.9,429.3h0M153.2,429h0M153.5,429.6h0M153.8,430h0M154.1,429.7h0M154.4,429.6h0M154.6,429.6h0M154.9,430.8h0M155.2,429.6h0M155.4,430.1h0M155.7,430.8h0M155.9,429.9h0M156.1,430.2h0M156.4,430.8h0M156.6,431.3h0M156.8,430.8h0M157,431.1h0M157.3,431.1h0M157.5,430.7h0M157.7,432.2h0M157.9,431.6h0M158.2,431h0M158.4,432.1h0M158.6,431.4h0M158.9,432h0M159.2,432.7h0M159.4,432.3h0M159.7,433.5h0M160,432.2h0M160.3,433.2h0M160.6,433.4h0M160.9,433.9h0M161.2,433.6h0M161.5,433.3h0M161.8,433.2h0M162.1,433.1h0M162.4,433.8h0M162.7,432.8h0M163,433.5h0M163.4,433.2h0M163.7,433.4h0M164,433.2h0M164.3,434.5h0M164.6,433h0M165,433.5h0M165.3,433.6h0M165.6,433.7h0M165.9,433.7h0M166.2,433.6h0M166.4,433.9h0M166.7,432.5h0M167,433.2h0M167.2,432.4h0M167.4,433.1h0M167.7,432.2h0M167.9,432.2h0M168.1,432.5h0M168.3,433.1h0M168.5,432.4h0M168.7,432h0M168.9,432.4h0M169.1,430.9h0M169.3,430h0M169.5,430.6h0M169.7,430.4h0M169.9,431h0M170.2,431.2h0M170.4,429h0M170.6,430.8h0M170.9,430h0M171.1,429.4h0M171.4,428.9h0M171.6,429.8h0M171.9,428.3h0M172.1,427.8h0M172.3,428h0M172.6,427.1h0M172.8,428.1h0M173,427.7h0M173.2,428h0M173.4,428.1h0M173.5,427.5h0M173.7,429h0M173.9,427.9h0M174,429.1h0M174.2,428h0M174.4,429.4h0M174.5,429h0M174.7,429.8h0M174.9,429.7h0M175,429.2h0M175.2,430.1h0M175.4,431.1h0M175.6,431.7h0M175.8,430.8h0M176.1,430.7h0M176.3,431.7h0M176.6,432.2h0M176.9,432.2h0M177.2,432.3h0M177.4,433.4h0M177.7,433.6h0M178.1,433.6h0M178.4,432.7h0M178.7,433.3h0M178.9,433.2h0M179.2,432.6h0M179.5,433.8h0M179.8,433.3h0M180,432.9h0M180.3,433.9h0M180.5,433.4h0M180.7,433.3h0M180.9,433.3h0M181.2,432.8h0M181.4,431.5h0M181.5,431.8h0M181.7,432.3h0M181.9,431.1h0M182.1,431.2h0M182.3,431.2h0M182.6,431.5h0M182.8,431.2h0M183,430.7h0M183.3,429.8h0M183.5,430.2h0M183.8,429.8h0M184.1,429.2h0M184.3,429.8h0M184.6,429.2h0M184.9,428.4h0M185.2,429.4h0M185.4,428.5h0M185.7,428.9h0M185.9,427.8h0M186.2,428.6h0M186.4,428.2h0M186.6,428.4h0M186.8,428h0M187,430.5h0M187.2,429.4h0M187.4,429.9h0M187.6,430.6h0M187.8,430.2h0M188,430.8h0M188.2,430.1h0M188.4,431.2h0M188.6,431.1h0M188.8,431.9h0M189,431.9h0M189.3,431.3h0M189.5,431.2h0M189.8,431.8h0M190.1,433h0M190.3,432.9h0M190.6,433h0M190.9,431.8h0M191.2,431.5h0M191.5,432.7h0M191.8,432.9h0M192.1,432.8h0M192.4,433.4h0M192.7,433.1h0M193,432.6h0M193.3,432.7h0M193.6,433.3h0M193.9,433.2h0M194.2,433.2h0M194.5,434.4h0M194.8,433h0M195.1,433.2h0M195.4,432.6h0M195.7,433h0M196,433.4h0M196.3,433.5h0M196.6,433.1h0M196.9,433.4h0M197.2,433.3h0M197.6,432.2h0M197.9,431.5h0M198.2,434.6h0M198.5,433.8h0M198.8,433.3h0M199.1,432.4h0M199.4,432.7h0M199.7,434.1h0M199.9,431.7h0M200.2,432.9h0M200.4,433.4h0M200.6,432.9h0M200.7,433h0M200.9,432.3h0M201.1,433.4h0M201.2,431.3h0M201.4,430.8h0M201.5,431.4h0M201.7,431.8h0M201.8,430.7h0M202,431h0M202.2,429.8h0M202.3,429.2h0M202.6,430.4h0M202.8,430.2h0M203,430h0M203.3,428.8h0M203.6,428.2h0M203.9,428.1h0M204.2,428.5h0M204.5,428.9h0M204.8,428.9h0M205,427.8h0M205.3,428.8h0M205.5,428.8h0M205.7,429h0M205.9,429.1h0M206,429.2h0M206.2,429.9h0M206.3,429.9h0M206.5,430.2h0M206.6,430h0M206.7,430.9h0M206.9,431h0M207,430.2h0M207.1,431.9h0M207.3,431.9h0M207.4,432.8h0M207.6,432.5h0M207.8,432.8h0M208,433.3h0M208.2,433.4h0M208.4,433.4h0M208.7,432.9h0M209,435.1h0M209.2,433.3h0M209.5,434.2h0M209.8,434.8h0M210.1,434.7h0M210.4,434.9h0M210.7,435h0M211,435.3h0M211.2,434.7h0M211.5,436.1h0M211.7,433.8h0M212,434.4h0M212.2,433.9h0M212.4,433.6h0M212.7,433.9h0M212.9,434.3h0M213.1,432.8h0M213.3,432.6h0M213.5,433.1h0M213.7,432.7h0M213.9,433.1h0M214,432.3h0M214.2,431.5h0M214.4,430.8h0M214.6,430.8h0M214.8,430.2h0M215,429.2h0M215.1,429.6h0M215.3,429.2h0M215.5,428.8h0M215.6,428.4h0M215.8,429.3h0M216,428.4h0M216.1,428.3h0M216.3,427.3h0M216.4,426.9h0M216.6,427.2h0M216.7,427.4h0M216.9,427h0M217,427.1h0M217.1,427.8h0M217.3,427.5h0M217.4,427h0M217.5,427.5h0M217.6,427.6h0M217.7,428.3h0M217.9,427.9h0M218,428.7h0M218.1,429.5h0M218.3,429.5h0M218.4,429.3h0M218.5,429.9h0M218.7,430.6h0M218.8,431.2h0M219,431.7h0M219.2,431.5h0M219.4,431.1h0M219.6,432.9h0M219.8,432.6h0M220,432.9h0M220.2,433h0M220.4,432.5h0M220.7,433.1h0M220.9,433.6h0M221.2,434.1h0M221.4,433.7h0M221.7,432h0M222,433.7h0M222.2,434h0M222.5,434.5h0M222.8,434.2h0M223.1,435.1h0M223.4,434.5h0M223.7,434.4h0M224,434.1h0M224.3,432.8h0M224.6,433.9h0M224.9,433.7h0M225.2,433h0M225.5,433.6h0M225.8,433.4h0M226.1,432.9h0M226.4,433.1h0M226.7,433.1h0M227,433.3h0M227.3,433h0M227.6,433.6h0M227.9,432.3h0M228.2,433.2h0M228.5,432.5h0M228.8,433.2h0M229.1,433.8h0M229.4,433.6h0M229.7,433.5h0M230,433.6h0M230.3,434.5h0M230.6,433h0M230.9,434h0M231.2,432.7h0M231.5,433.2h0M231.8,433.4h0M232.1,432.7h0M232.4,433.2h0M232.6,433.3h0M232.9,432h0M233.1,432.4h0M233.3,432h0M233.6,430.9h0M233.8,431.6h0M234,430.9h0M234.1,431.8h0M234.3,430.3h0M234.5,431.4h0M234.7,429.9h0M234.8,430.9h0M235,429.9h0M235.2,429.6h0M235.3,429.6h0M235.5,429.4h0M235.6,429.6h0M235.8,429.6h0M236,428.4h0M236.2,427.9h0M236.3,427.1h0M236.5,428.5h0M236.7,429.2h0M236.9,429.2h0M237.1,429.2h0M237.3,429.2h0M237.5,429.3h0M237.7,429.7h0M237.9,430.4h0M238.1,429.6h0M238.3,431.3h0M238.5,430.4h0M238.7,431.5h0M238.9,431.6h0M239,432.1h0M239.2,432.1h0M239.4,432.4h0M239.6,433.3h0M239.7,433.1h0M239.9,435.4h0M240,434.2h0M240.2,434.4h0M240.3,434.7h0M240.5,434.7h0M240.6,434.1h0M240.8,435.6h0M241,436.1h0M241.1,435.2h0M241.3,436.1h0M241.5,435.5h0M241.7,436.2h0M241.9,436.4h0M242.1,436.4h0M242.3,436.2h0M242.5,435.5h0M242.7,436.1h0M242.9,435.2h0M243.1,435.4h0M243.3,435.3h0M243.5,434.5h0M243.8,433.7h0M244,434.4h0M244.2,433.1h0M244.4,432.9h0M244.6,432.4h0M244.8,433.1h0M245,432.2h0M245.2,430.7h0M245.4,432h0M245.6,432.4h0M245.8,431.9h0M246,430.3h0M246.1,430.4h0M246.3,430.4h0M246.5,430.3h0M246.7,429.7h0M246.9,428.9h0M247.1,429.7h0M247.2,429.6h0M247.4,428.5h0M247.6,429h0M247.8,429.4h0M248,429.3h0M248.2,429.7h0M248.3,430.1h0M248.5,430.1h0M248.7,430h0M248.9,429.6h0M249.1,431h0M249.3,431.7h0M249.5,432.3h0M249.8,431.5h0M250,431.8h0M250.2,432.8h0M250.4,433.1h0M250.7,432.7h0M250.9,433.2h0M251.2,432.6h0M251.4,433.5h0M251.7,432.9h0M251.9,433.4h0M252.2,433.5h0M252.4,433.4h0M252.7,432.6h0M253,433.3h0M253.2,434h0M253.5,433.7h0M253.8,433.5h0M254.1,433.9h0M254.3,433.9h0M254.6,433.9h0M254.9,432.9h0M255.2,433.2h0M255.4,432.8h0M255.7,432.4h0M256,431.9h0M256.3,432.5h0M256.6,431.9h0M256.9,433.4h0M257.2,432.1h0M257.5,431.8h0M257.8,431.6h0M258.1,432.8h0M258.4,431.1h0M258.7,431.5h0M259,431.1h0M259.3,431.4h0M259.6,431.4h0M259.9,432.1h0M260.2,430.7h0M260.5,431.6h0M260.8,432.6h0M261.1,431.5h0M261.3,431.9h0M261.6,431.7h0M261.9,431h0M262.1,432.6h0M262.4,433.5h0M262.7,432.9h0M262.9,432.3h0M263.1,433.7h0M263.4,433.8h0M263.6,434.5h0M263.8,434.6h0M264.1,434h0M264.3,434.4h0M264.5,433.2h0M264.7,434.7h0M264.9,434.1h0M265.2,434.4h0M265.4,434.2h0M265.6,433.2h0M265.8,433h0M266,432.3h0M266.2,431.4h0M266.4,432.1h0M266.6,432h0M266.8,431h0M267,431.7h0M267.2,431.2h0M267.4,431.2h0M267.6,430.3h0M267.9,429.7h0M268.1,431h0M268.3,430.9h0M268.5,430.6h0M268.8,430.5h0M269,430.7h0M269.3,431h0M269.5,430.9h0M269.8,430.3h0M270,432.1h0M270.3,431.1h0M270.6,432h0M270.8,432.3h0M271.1,432.8h0M271.4,432h0M271.7,433.8h0M272,433.7h0M272.2,433.9h0M272.5,434.3h0M272.8,433.3h0M273.1,432.1h0M273.4,434.1h0M273.6,434.6h0M273.9,434.5h0M274.2,433.4h0M274.4,433.5h0M274.7,433.6h0M274.9,432.2h0M275.2,432.6h0M275.4,432.3h0M275.6,433.3h0M275.9,431.8h0M276.1,432.7h0M276.3,431.6h0M276.5,430.4h0M276.7,432.4h0M277,430.4h0M277.2,431.1h0M277.4,431.6h0M277.6,430.3h0M277.8,429.9h0M278,431.2h0M278.3,430.8h0M278.5,430.2h0M278.7,430.5h0M278.9,431.1h0M279.2,432.1h0M279.4,431.7h0M279.6,432.4h0M279.9,433.2h0M280.1,433.3h0M280.3,433.6h0M280.6,433.7h0M280.8,432.2h0M281.1,433.9h0M281.4,433.5h0M281.6,433.2h0M281.9,432.7h0M282.2,432.4h0M282.5,432.5h0M282.7,433h0M283,432.2h0M283.3,432.3h0M283.6,432.2h0M283.9,432.8h0M284.2,432.1h0M284.5,432h0M284.8,432.6h0M285.1,431.6h0M285.4,432h0M285.7,430.9h0M286,431.6h0M286.3,431.4h0M286.6,431.4h0M286.9,430.9h0M287.2,430.6h0M287.5,431h0M287.8,430.9h0M288.1,431.7h0M288.4,431.6h0M288.7,430.5h0M289,431.5h0M289.3,431h0M289.6,431.6h0M289.9,431.1h0M290.2,430.6h0M290.5,432.1h0M290.8,431.9h0M291.1,431.1h0M291.4,430.8h0M291.6,431.7h0M291.9,431.4h0M292.2,432h0M292.5,432.6h0M292.8,433.2h0M293.1,432.2h0M293.4,433.3h0M293.7,433.2h0M294,432.4h0M294.3,431.7h0M294.6,433.1h0M294.8,433h0M295.1,433.9h0M295.4,433.3h0M295.7,432.9h0M296,433.3h0M296.3,431.7h0M296.6,432.2h0M296.9,431.8h0M297.2,432.8h0M297.4,432.1h0M297.7,430h0M298,432.3h0M298.3,431h0M298.6,431.9h0M298.9,431.1h0M299.2,431.5h0M299.4,431.8h0M299.7,431.6h0M300,431h0M303.8,433.9h0M304,433.4h0M304.3,433.2h0M304.6,433.6h0M304.9,432.9h0M305.2,434.2h0M305.5,433.2h0M305.8,433.2h0M306.1,433.1h0M306.4,432.2h0M306.7,432h0M306.9,432.6h0M307.2,432.5h0M307.5,432.9h0M307.8,432.3h0M308.1,431.4h0M308.3,432.2h0M308.6,432.3h0M308.9,432.4h0M309.2,432h0M309.4,431.2h0M309.7,432.6h0M310,431.7h0M310.3,432.5h0M310.5,431.5h0M310.8,433h0M311.1,432.3h0M311.3,433.5h0M311.6,434.1h0M311.9,433.9h0M312.1,432.8h0M312.4,433.1h0M312.7,433.2h0M312.9,434.2h0M313.2,434h0M313.5,434h0M313.8,434.1h0M314,434.2h0M314.3,434.2h0M314.6,434.7h0M314.9,433.6h0M315.2,433.7h0M315.4,432.4h0M315.7,432.6h0M316,432.8h0M316.3,432.4h0M316.6,433h0M316.9,433.3h0M317.2,432.4h0M317.5,432.2h0M317.8,432h0M318.1,432.2h0M318.4,431.7h0M318.7,432.2h0M319,432h0M319.3,431.9h0M319.6,432.1h0M319.9,431.6h0M320.2,431.6h0M320.5,432.5h0M320.8,431.5h0M321.1,431.9h0M321.4,431.5h0M321.7,431.2h0M322,431.3h0M322.3,431.1h0M322.6,431.7h0M322.9,431.4h0M323.2,431.6h0M323.4,432.7h0M323.7,432.1h0M324,432.9h0M324.2,432.6h0M324.5,433.1h0M324.8,432.4h0M325,433h0M325.3,435.1h0M325.6,433.9h0M325.8,434.1h0M326.1,433.7h0M326.4,434.3h0M326.6,432.8h0M326.9,433.1h0M327.2,434.1h0M327.5,434.5h0M327.8,433.5h0M328.1,433.7h0M328.4,433.5h0M328.7,433.6h0M329,432.8h0M329.3,432.6h0M329.6,433.6h0M329.9,432.3h0M330.2,432.8h0M330.5,433.1h0M330.8,432.8h0M331.1,433.8h0M331.4,433.3h0M331.7,433.6h0M332,432.9h0M332.3,433.1h0M332.6,434.1h0M332.9,434.1h0M333.2,433.5h0M333.5,434.2h0M333.8,434.1h0M334.1,434.1h0M334.4,435.3h0M334.7,433.8h0M335,434.5h0M335.3,434.5h0M335.6,434.1h0M335.9,433.4h0M336.2,434.9h0M336.5,434.6h0M336.8,434.4h0M337.1,434.4h0M337.4,434.4h0M337.7,433.7h0M338,434.6h0M338.3,433h0M338.6,434.4h0M338.9,433.2h0M339.2,434h0M339.5,434.8h0M339.8,434h0M340.1,433.8h0M340.4,434.5h0M340.7,433.8h0M341,433.6h0M341.2,433.5h0M341.5,434.9h0M341.8,434.1h0M342.1,433.9h0M342.4,432.5h0M342.7,433.8h0M342.9,432.2h0M343.2,433.4h0M343.5,432.2h0M343.8,434.4h0M344.1,431.5h0M344.4,433.6h0M344.7,433.2h0M345,431.2h0M345.2,432.3h0M345.5,433.5h0M345.8,433.3h0M346.1,431.1h0M346.4,432h0M346.7,431.5h0M347,431.5h0M347.3,431.8h0M347.6,433.7h0M347.9,432.4h0M348.2,432.2h0M348.5,432.1h0M348.8,432.9h0M349.1,432.9h0M349.4,431.7h0M349.7,433.5h0M350,431.6h0M350.4,432.3h0M350.7,432.9h0M351,433.8h0M351.3,432.3h0M351.6,432.8h0M351.9,433.6h0M352.2,433.1h0M352.5,433.5h0M352.8,433.5h0M353.1,433h0M353.4,433.3h0M353.7,433.5h0M354,432.9h0M354.3,434.1h0M354.6,431.5h0M354.8,432.3h0M355.1,434.1h0M355.4,433.4h0M355.7,432.6h0M356,433.4h0M356.3,434h0M356.6,432.8h0M356.9,433.9h0M357.2,433.3h0M357.5,433.3h0M357.8,433.4h0M358.1,434.4h0M358.4,432.7h0M358.7,433.4h0M359,434.2h0M359.3,432.9h0M359.6,432.6h0M359.9,434.3h0M360.2,434h0M360.5,433.9h0M360.7,434.2h0M361,433.4h0M361.3,436.4h0M361.6,433.6h0M361.9,434h0M362.2,433.4h0M362.5,434.2h0M362.8,435.7h0M363.1,434.7h0M363.4,435.1h0M363.7,434.4h0M364,436.2h0M364.3,435h0M364.6,434h0M364.9,435.5h0M365.2,434.7h0M365.5,435.5h0M365.8,435.2h0M366.1,435.3h0M366.4,435.2h0M366.7,434.5h0M367,434h0M367.3,435.9h0M367.6,435h0M367.9,435.3h0M368.2,434.8h0M368.5,433.6h0M368.8,434.1h0M369,436.1h0M369.3,434.4h0M369.6,434.6h0M369.9,433.8h0M370.2,434.4h0M370.5,434.5h0M370.8,434.5h0M371.1,434.6h0M371.4,434.1h0M371.7,434.1h0M372,434.4h0M372.3,434.6h0M372.6,434.2h0M372.9,435.5h0M373.2,434.2h0M373.5,434.1h0M373.8,433.4h0M374.1,434.6h0M374.4,433h0M374.7,432.5h0M375,432.9h0M375.3,434h0M375.6,432.6h0M375.8,434.4h0M376.1,433.3h0M376.4,432.1h0M376.7,433.1h0M377,434.5h0M377.3,432.5h0M377.6,432.2h0M377.9,433.5h0M378.2,434.1h0M378.5,433.9h0M378.8,432.9h0M379.1,433.4h0M379.4,433.5h0M379.7,434.2h0M380,434.9h0M380.3,433.3h0M380.6,434.4h0M380.9,433.2h0M381.2,434h0M381.5,432.9h0M381.8,433h0M382.1,434h0M382.4,433h0M382.7,434.4h0M383,433.3h0M383.3,433.8h0M383.6,433.7h0M383.9,433.5h0M384.2,433.8h0M384.5,434.5h0M384.8,436h0M385.1,432.8h0M385.4,433.9h0M385.7,433.5h0M386,432.9h0M386.3,433.8h0M386.6,432.9h0M387,433.5h0M387.2,434.5h0M387.5,432.1h0M387.8,433.8h0M388.1,434h0M388.4,432.9h0M388.7,434.1h0M389,434h0M389.3,433.5h0M389.5,434.8h0M389.8,433h0M390.1,434.6h0M390.4,434h0M390.6,433.5h0M390.9,434.3h0M391.2,434.3h0M391.4,435.3h0M391.7,433.7h0M392,434.9h0M392.2,434.8h0M392.5,436.5h0M392.8,434.6h0M393,436.4h0M393.3,434.5h0M393.6,436.2h0M393.9,436h0M394.1,436.5h0M394.4,435.8h0M394.7,435h0M395,435.4h0M395.3,437.7h0M395.6,437h0M395.9,436.3h0M396.2,437.7h0M396.5,436.5h0M396.8,436.6h0M397.1,436.2h0M397.4,438h0M397.7,438.6h0M397.9,436.4h0M398.2,437.3h0M398.5,437.8h0M398.8,438.6h0M399.1,435.1h0M399.3,436.9h0M399.6,437.1h0M399.9,435.4h0M400.2,436.8h0M400.4,436.4h0M400.7,436.9h0M401,435.1h0M401.2,436.2h0M401.5,434.7h0M401.7,436.1h0M402,435.3h0M402.2,434.4h0M402.5,432.9h0M402.7,436.7h0M403,435.8h0M403.2,435.3h0M403.5,433.2h0M403.7,433.4h0M404,435.9h0M404.3,434.6h0M404.5,432.4h0M404.8,433.4h0M405.1,433.4h0M405.4,432.9h0M405.7,431.9h0M405.9,434.7h0M406.3,433.8h0M406.6,432.7h0M406.9,430.9h0M407.2,432.2h0M407.5,433h0M407.8,434.2h0M408.1,432.6h0M408.4,434.6h0M408.7,433.4h0M409,432.3h0M409.3,429.8h0M409.6,432h0M409.9,431.7h0M410.1,433.6h0M410.4,434.3h0M410.7,435.9h0M411,434.2h0M411.2,432.8h0M411.5,437.6h0M411.7,435.1h0M412,434.5h0M412.3,434.6h0M412.5,433.4h0M412.8,436.1h0M413,435.9h0M413.3,437.6h0M413.6,437.1h0M413.9,436.9h0M414.1,437.5h0M414.4,435.6h0M414.7,435.4h0M415,436h0M415.3,434.5h0M415.6,436h0M415.9,435.8h0M416.2,437.1h0M416.5,436.2h0M416.8,433.8h0M417.1,436.4h0M417.4,438.2h0M417.7,434h0M418,435.4h0M418.3,436.5h0M418.6,434.8h0M418.9,435.9h0M419.2,436.7h0M419.5,435h0M419.8,437.2h0M420.1,437.4h0M420.3,435.3h0M420.6,437.1h0M420.9,438.6h0M421.2,437.1h0M421.5,438h0M421.8,438.4h0M422,437.3h0M422.3,439h0M422.6,438.4h0M422.9,436.7h0M423.1,438.8h0M423.4,439.3h0M423.7,439.4h0M424,437.6h0M424.3,439.2h0M424.5,440.5h0M424.8,439.1h0M425.1,440.5h0M425.4,440.7h0M425.6,439.1h0M425.9,440.1h0M426.2,439h0M426.5,440.9h0M426.7,439.5h0M427,439h0M427.3,439.8h0M427.6,450.1h0M427.8,446.6h0M427.4,449.3h0M427.9,448.4h0M428.8,450.2h0M427.8,449h0M428.5,448h0M427.3,447.2h0M428.1,451h0M427.5,449.5h0M428.3,448.1h0M428.3,446.4h0M429.1,446.1h0M429.2,445.6h0M428.8,445.3h0M429,445.5h0M430,443.4h0M429,445.7h0M430.6,447.9h0M430.8,448.4h0M430.2,446.3h0M429.8,445h0M431.4,443.2h0M430.6,443.9h0M431.8,448.9h0M433,449.6h0M431.7,442.2h0M432.6,449.1h0M432.2,446h0M432.9,447.3h0M433.3,448.4h0M434,447.6h0M434.1,451.6h0M433.6,445.6h0M434.5,451.6h0M434.5,450.2h0M434.5,450.1h0M434.6,449.8h0M435.1,449.4h0M435.7,451h0M435.1,450.8h0M434.8,451.3h0M436.7,450.6h0M435.9,449.9h0M436.2,449.1h0M436.2,449.8h0M435.9,450.8h0M436.2,447.4h0M437.2,451.5h0M435.8,453.6h0M436.6,452.2h0M437,450.3h0M435.7,452.2h0M437.1,454.8h0M436.8,452.5h0M437.4,452.8h0M437.3,454.2h0M437.1,457.1h0M437.3,454.3h0M437.7,453h0M438.2,456.6h0M438.7,455.9h0M438.1,456.6h0M437.9,455h0M438.8,456.1h0M438.3,451.9h0M439.6,453.8h0M438.5,452.2h0M439.3,456.9h0M439.4,456.7h0M439.7,455h0M440.1,453.1h0M440,452.8h0M439.8,454.5h0M439.9,453.1h0M440,452.4h0M440.3,454.4h0M440.6,452h0M441.4,445.7h0M440.4,445.7h0M440.9,451.7h0M441.2,451h0M440.7,453.6h0M441.3,449.2h0M440.7,450.3h0M441,448.2h0M441.4,449.3h0M441,451.1h0M441,446h0M441.6,448.3h0M441.5,446.9h0M441.5,446.4h0M440.9,448.7h0M441.2,446.5h0M442,446.8h0M442.9,443.7h0M441.6,446.4h0M442.6,445.5h0M441.6,448h0M441.9,445.1h0M442.8,443.9h0M442.5,445.9h0M442.8,445.3h0M442.7,444.2h0M442.9,441.1h0M444.3,444.9h0M444.2,441.8h0M444.1,443.2h0M443.8,444.6h0M444.3,443h0M444.2,445.4h0M445.3,444.2h0M444.7,442.5h0M445.7,443.2h0M445.4,444.2h0M444.9,447.3h0M444.6,445h0M445.4,441.6h0M445.6,446.3h0M445.5,443.9h0M445.7,448.2h0M445.6,449.8h0M445.9,448.3h0M446.2,445.8h0M445.4,448.5h0M445.9,450.8h0M446.2,448.4h0M446,447.8h0M445.9,447.6h0M446.5,447.7h0M446.2,449h0M446.4,448.3h0M446,449.4h0M447,449h0M447.6,444.8h0M448.7,448.7h0M448.1,444.7h0M448.5,449h0M448.4,448.6h0M449.3,447.5h0M448.6,450.9h0M449.2,448h0M450.1,448.8h0M449.2,449.2h0M449.2,449.4h0M449.5,447.9h0M449.3,450.1h0M449.6,451h0M449.8,450.7h0M449.7,449.8h0M449.4,453h0M448.7,452h0M450.8,447.9h0M450.2,448.4h0M449.8,455.5h0M450.3,450.8h0M449.3,450h0M450.2,452.3h0M450.1,453.8h0M450.5,454.5h0M450.7,450.3h0M451.5,448.1h0M451.7,452.4h0M451.4,452.5h0M451.6,453.5h0M452,451.2h0M452.7,452.1h0M453.1,452.9h0M452.5,453.9h0M453.4,451h0M453.1,455.5h0M452.9,450.8h0M453.5,449.8h0M452.5,448.7h0M453.7,453.1h0M453.9,452.3h0M453.2,452.6h0M454.2,449.5h0M454.1,449.9h0M453.8,451.1h0M453.1,453h0M453.4,449.5h0M453.5,450.3h0M453.8,449.1h0M454.2,449.3h0M453.4,442.6h0M453.5,447.5h0M453.2,446h0M453.8,449.5h0M454.3,449.4h0M453.2,447.3h0M452.9,447.9h0M453.6,444.9h0M453.5,445.3h0M453.3,448.2h0M454.8,446.9h0M454.1,445.3h0M453.6,449.1h0M453.6,445.2h0M453.8,445.4h0M454,445.1h0M453.6,443.5h0M454.7,441.3h0M454,445.9h0M454.6,445h0M453.6,443h0M454.2,439.6h0M455,444.5h0M454.3,439.7h0M454.8,441.4h0M454.6,445.9h0M455.5,440.4h0M455.2,445.5h0M456.4,439.6h0M455.7,442.8h0M455.2,438.8h0M456.3,438.3h0M455.7,436.7h0M455.7,440.5h0M455.7,436.2h0M455.9,442.1h0M456.4,437.2h0M456.5,438.9h0M456.6,434.2h0M456.9,437.2h0M457.3,434.7h0M457.6,436.3h0M456.7,439.9h0M457.5,437.9h0M457.9,439.2h0M458.7,439.2h0M458.8,433.6h0M458.1,437.2h0M458.7,437.6h0M459.4,433.7h0M459.1,434.1h0M459.4,435.8h0M460.2,438.8h0M459.8,434.7h0M461,437.5h0M460.6,430.7h0M460.3,435.5h0M460.6,439h0M461,435.2h0M460.7,432.3h0M461,432.9h0M461.3,434.6h0M461.6,435.6h0M68.3,406.8h0M48.8,409.2h0M57.5,432.6h0M64.9,435.1h0M79.1,430.6h0M84.2,440h0M88.7,437.7h0M131.4,309.1h0M146,437.8h0M168,447.9h0M179.6,437.2h0M193.8,409.1h0M200.9,438.6h0M205.9,444.9h0M220.3,441.8h0M221.7,460.7h0M223.8,383.6h0M223.8,428.8h0M233.4,444.3h0M266,458.7h0M273.8,454.3h0M280,437.2h0M285.8,455.5h0M290.8,437.8h0M294.9,437.2h0M295.3,458.3h0M320.8,437.2h0M321,442.7h0M331.4,439.2h0M341.7,450.3h0M349.5,453.3h0M353.7,395.3h0M356,436.6h0M361.5,445.9h0M374.8,439.2h0M374.8,443.9h0M377.6,446.3h0M380.2,441.2h0M380.8,422.6h0M385.2,449.9h0M395.9,449.9h0M398.7,450.7h0M404.7,430.6h0M410.3,449.1h0M416.8,446.3h0M410.6,449h0M417,446h0M428,454h0M432.1,453.2h0M434,456.7h0M443.1,471.6h0M438,463.7h0M438.9,460.7h0M439.6,458h0M451,458.5h0M451,463h0M460,444.2h0M456.7,455.2h0" fill="none" stroke="#6495ed" stroke-width="2.3" stroke-linecap="round"/>
<path d="M109.5,13.5 V221.5 M109.5,268.5 V476.5" stroke="#b22222" stroke-width="1.1" fill="none"/>
<text x="221.5" y="6.9" font-size="9.7" text-anchor="start" textLength="67.4" lengthAdjust="spacingAndGlyphs">Unsigned Flux</text>
<text x="165.9" y="263.3" font-size="9.7" text-anchor="start" textLength="177.9" lengthAdjust="spacingAndGlyphs">NRT and Definitive Percent Difference</text>
<text x="244.2" y="244.9" font-size="9.7" text-anchor="start" textLength="22.1" lengthAdjust="spacingAndGlyphs">Time</text>
<text x="244.2" y="497.3" font-size="9.7" text-anchor="start" textLength="22.1" lengthAdjust="spacingAndGlyphs">Time</text>
<text x="86" y="232.3" font-size="9.7" text-anchor="start" textLength="27.1" lengthAdjust="spacingAndGlyphs">03-Jul</text>
<text x="86" y="487" font-size="9.7" text-anchor="start" textLength="27.1" lengthAdjust="spacingAndGlyphs">03-Jul</text>
<text x="148.3" y="232.3" font-size="9.7" text-anchor="start" textLength="27.1" lengthAdjust="spacingAndGlyphs">05-Jul</text>
<text x="148.3" y="487" font-size="9.7" text-anchor="start" textLength="27.1" lengthAdjust="spacingAndGlyphs">05-Jul</text>
<text x="210.6" y="232.3" font-size="9.7" text-anchor="start" textLength="27.1" lengthAdjust="spacingAndGlyphs">07-Jul</text>
<text x="210.6" y="487" font-size="9.7" text-anchor="start" textLength="27.1" lengthAdjust="spacingAndGlyphs">07-Jul</text>
<text x="273" y="232.3" font-size="9.7" text-anchor="start" textLength="27.1" lengthAdjust="spacingAndGlyphs">09-Jul</text>
<text x="273" y="487" font-size="9.7" text-anchor="start" textLength="27.1" lengthAdjust="spacingAndGlyphs">09-Jul</text>
<text x="335.3" y="232.3" font-size="9.7" text-anchor="start" textLength="27.1" lengthAdjust="spacingAndGlyphs">11-Jul</text>
<text x="335.3" y="487" font-size="9.7" text-anchor="start" textLength="27.1" lengthAdjust="spacingAndGlyphs">11-Jul</text>
<text x="397.6" y="232.3" font-size="9.7" text-anchor="start" textLength="27.1" lengthAdjust="spacingAndGlyphs">13-Jul</text>
<text x="397.6" y="487" font-size="9.7" text-anchor="start" textLength="27.1" lengthAdjust="spacingAndGlyphs">13-Jul</text>
<text x="45" y="223" font-size="10.0" text-anchor="end">0</text>
<text x="45.3" y="184" font-size="10.0" text-anchor="end">2<tspan dx="0.3">&#8226;</tspan><tspan dx="0.3">10</tspan><tspan dy="-4.7" dx="0.3" font-size="6.2">22</tspan></text>
<text x="45.3" y="142.4" font-size="10.0" text-anchor="end">4<tspan dx="0.3">&#8226;</tspan><tspan dx="0.3">10</tspan><tspan dy="-4.7" dx="0.3" font-size="6.2">22</tspan></text>
<text x="45.3" y="100.5" font-size="10.0" text-anchor="end">6<tspan dx="0.3">&#8226;</tspan><tspan dx="0.3">10</tspan><tspan dy="-4.7" dx="0.3" font-size="6.2">22</tspan></text>
<text x="45.3" y="58.9" font-size="10.0" text-anchor="end">8<tspan dx="0.3">&#8226;</tspan><tspan dx="0.3">10</tspan><tspan dy="-4.7" dx="0.3" font-size="6.2">22</tspan></text>
<text x="45.3" y="19.5" font-size="10.0" text-anchor="end">1<tspan dx="0.3">&#8226;</tspan><tspan dx="0.3">10</tspan><tspan dy="-4.7" dx="0.3" font-size="6.2">23</tspan></text>
<text x="464.8" y="223.4" font-size="10.0" text-anchor="start">0</text>
<text x="464.8" y="190.9" font-size="10.0" text-anchor="start">5.0<tspan dx="0.3">&#8226;</tspan><tspan dx="0.3">10</tspan><tspan dy="-4.7" dx="0.3" font-size="6.2">4</tspan></text>
<text x="464.8" y="156.3" font-size="10.0" text-anchor="start">1.0<tspan dx="0.3">&#8226;</tspan><tspan dx="0.3">10</tspan><tspan dy="-4.7" dx="0.3" font-size="6.2">5</tspan></text>
<text x="464.8" y="121.6" font-size="10.0" text-anchor="start">1.5<tspan dx="0.3">&#8226;</tspan><tspan dx="0.3">10</tspan><tspan dy="-4.7" dx="0.3" font-size="6.2">5</tspan></text>
<text x="464.8" y="86.9" font-size="10.0" text-anchor="start">2.0<tspan dx="0.3">&#8226;</tspan><tspan dx="0.3">10</tspan><tspan dy="-4.7" dx="0.3" font-size="6.2">5</tspan></text>
<text x="464.8" y="51.5" font-size="10.0" text-anchor="start">2.5<tspan dx="0.3">&#8226;</tspan><tspan dx="0.3">10</tspan><tspan dy="-4.7" dx="0.3" font-size="6.2">5</tspan></text>
<text x="464.8" y="19.5" font-size="10.0" text-anchor="start">3.0<tspan dx="0.3">&#8226;</tspan><tspan dx="0.3">10</tspan><tspan dy="-4.7" dx="0.3" font-size="6.2">5</tspan></text>
<text x="44.8" y="476.8" font-size="9.9" text-anchor="end">-10</text>
<text x="44.8" y="437.7" font-size="9.9" text-anchor="end">0</text>
<text x="44.8" y="396.1" font-size="9.9" text-anchor="end">10</text>
<text x="44.8" y="354.5" font-size="9.9" text-anchor="end">20</text>
<text x="44.8" y="312.9" font-size="9.9" text-anchor="end">30</text>
<text x="44.8" y="272.9" font-size="9.9" text-anchor="end">40</text>
<text transform="translate(8.1,117.3) rotate(-90)" font-size="9.7" text-anchor="middle" textLength="121" lengthAdjust="spacingAndGlyphs">Unsigned Flux (Maxwell)</text>
<text transform="translate(508.8,117.6) rotate(-90)" font-size="9.7" text-anchor="middle" textLength="216.8" lengthAdjust="spacingAndGlyphs">Number of Pixels in Unsigned Flux Calculation</text>
<text transform="translate(26,372.1) rotate(-90)" font-size="9.7" text-anchor="middle" textLength="61.5" lengthAdjust="spacingAndGlyphs">% Difference</text>
<circle cx="58.3" cy="25.3" r="1.85" fill="#3a1088"/>
<text x="63" y="27.7" font-size="6.8" text-anchor="start">Definitive USFLUX</text>
<circle cx="58.3" cy="32.2" r="1.85" fill="#228b22"/>
<text x="63" y="34.6" font-size="6.8" text-anchor="start">NRT USFLUX</text>
<circle cx="58.3" cy="39.2" r="1.85" fill="#daa520"/>
<text x="63" y="41.6" font-size="6.8" text-anchor="start">Definitive CMASK</text>
<circle cx="58.3" cy="46.1" r="1.85" fill="#ff4500"/>
<text x="63" y="48.5" font-size="6.8" text-anchor="start">NRT CMASK</text>
<path d="M109.5,13.5 V221.5" stroke="#b22222" stroke-width="1.1" fill="none"/>
</svg></body></html>
